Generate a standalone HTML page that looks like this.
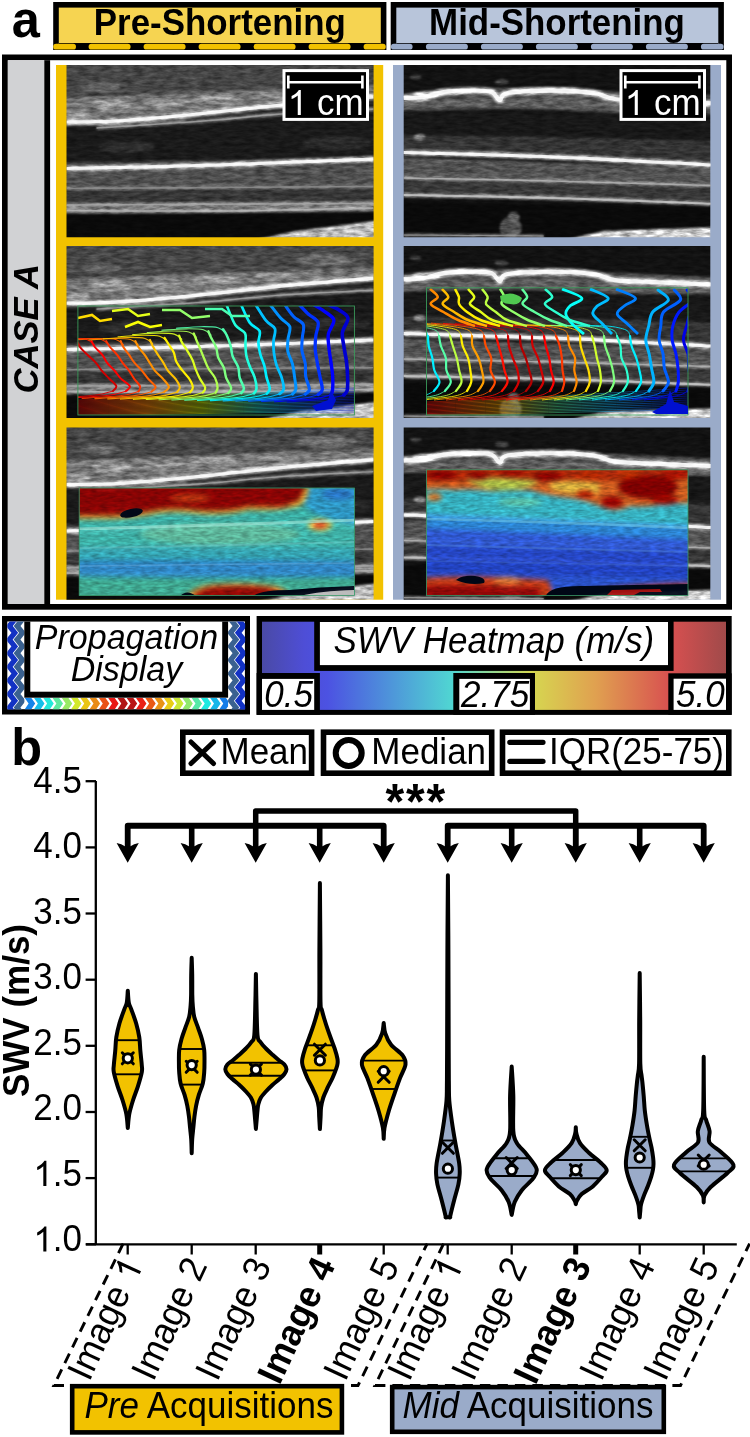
<!DOCTYPE html>
<html><head><meta charset="utf-8"><title>Figure</title>
<style>
html,body{margin:0;padding:0;background:#fff;}
body{width:750px;height:1437px;overflow:hidden;}
svg{display:block;font-family:"Liberation Sans",sans-serif;will-change:transform;}
</style></head><body>
<svg width="750" height="1437" viewBox="0 0 750 1437">
<rect x="53.2" y="2" width="333.2" height="48" fill="#000"/>
<rect x="58.800000000000004" y="7.6" width="322.0" height="37" fill="#f6d451"/>
<rect x="58.800000000000004" y="43" width="322.0" height="2" fill="#000"/>
<rect x="53.2" y="43.8" width="22.8" height="5.8" rx="2.9" fill="#f2c200"/><rect x="88.6" y="43.8" width="42.0" height="5.8" rx="2.9" fill="#f2c200"/><rect x="143.6" y="43.8" width="42.0" height="5.8" rx="2.9" fill="#f2c200"/><rect x="198.6" y="43.8" width="42.0" height="5.8" rx="2.9" fill="#f2c200"/><rect x="253.6" y="43.8" width="42.0" height="5.8" rx="2.9" fill="#f2c200"/><rect x="308.6" y="43.8" width="42.0" height="5.8" rx="2.9" fill="#f2c200"/><rect x="363.6" y="43.8" width="22.2" height="5.8" rx="2.9" fill="#f2c200"/>
<text x="219.8" y="35.2" font-size="34.9" font-weight="bold" text-anchor="middle" transform="matrix(1 0 0 1.04 0 -1.41)">Pre-Shortening</text>
<rect x="390.7" y="2" width="333.2" height="48" fill="#000"/>
<rect x="396.3" y="7.6" width="322.0" height="37" fill="#b8c5da"/>
<rect x="396.3" y="43" width="322.0" height="2" fill="#000"/>
<rect x="390.9" y="43.8" width="21.7" height="5.8" rx="2.9" fill="#9aabc9"/><rect x="425.9" y="43.8" width="42.0" height="5.8" rx="2.9" fill="#9aabc9"/><rect x="480.9" y="43.8" width="42.0" height="5.8" rx="2.9" fill="#9aabc9"/><rect x="535.9" y="43.8" width="42.0" height="5.8" rx="2.9" fill="#9aabc9"/><rect x="590.9" y="43.8" width="42.0" height="5.8" rx="2.9" fill="#9aabc9"/><rect x="645.9" y="43.8" width="42.0" height="5.8" rx="2.9" fill="#9aabc9"/><rect x="700.9" y="43.8" width="22.7" height="5.8" rx="2.9" fill="#9aabc9"/>
<text x="557.0" y="35.2" font-size="34.9" font-weight="bold" text-anchor="middle" transform="matrix(1 0 0 1.04 0 -1.41)">Mid-Shortening</text>
<text x="11.8" y="37.3" font-size="50.5" font-weight="bold" transform="matrix(1 0 0 1.04 0 -1.49)">a</text>
<rect x="4.85" y="57.35" width="724.3" height="549.5" fill="#fff" stroke="#000" stroke-width="5.7"/>
<rect x="8" y="60.2" width="36.3" height="543.8" fill="#d1d2d4"/>
<rect x="44.3" y="60.2" width="5.8" height="543.8" fill="#000"/>
<text transform="translate(25.6 328.8) rotate(-90) scale(1 1.04)" x="0" y="12" font-size="34.6" font-weight="bold" font-style="italic" text-anchor="middle">CASE A</text>
<rect x="56" y="65" width="327.2" height="534.7" fill="#f2c200"/>
<rect x="393" y="65" width="328" height="534.7" fill="#9aabc9"/>
<defs><filter id="spk" x="0" y="0" width="1" height="1" color-interpolation-filters="sRGB"><feGaussianBlur in="SourceGraphic" stdDeviation="1.3" result="b"/><feTurbulence type="fractalNoise" baseFrequency="0.09 0.3" numOctaves="3" seed="5" result="t"/><feColorMatrix in="t" type="matrix" values="1 0 0 0 0  1 0 0 0 0  1 0 0 0 0  0 0 0 0 1" result="nz"/><feComposite in="b" in2="nz" operator="arithmetic" k1="1.0" k2="0.5" k3="0" k4="0"/></filter><filter id="bl06"><feGaussianBlur stdDeviation="0.6"/></filter><filter id="bl3" x="-0.05" y="-0.1" width="1.1" height="1.2"><feGaussianBlur stdDeviation="3"/></filter><filter id="bl25" x="-0.05" y="-0.1" width="1.1" height="1.2"><feGaussianBlur stdDeviation="2.3"/></filter><filter id="hmn" x="-0.05" y="-0.1" width="1.1" height="1.2" color-interpolation-filters="sRGB"><feGaussianBlur in="SourceGraphic" stdDeviation="2.5" result="b"/><feTurbulence type="fractalNoise" baseFrequency="0.12 0.4" numOctaves="2" seed="9" result="t"/><feColorMatrix in="t" type="matrix" values="1 0 0 0 0  1 0 0 0 0  1 0 0 0 0  0 0 0 0 1" result="nz"/><feComposite in="b" in2="nz" operator="arithmetic" k1="0.6" k2="0.72" k3="0" k4="0"/></filter><filter id="bl5" x="-0.1" y="-0.1" width="1.2" height="1.2"><feGaussianBlur stdDeviation="5"/></filter></defs>
<clipPath id="cpre0"><rect x="66.5" y="65" width="307.1" height="172.3"/></clipPath>
<g clip-path="url(#cpre0)"><g filter="url(#spk)"><rect x="58.5" y="57" width="323.1" height="188.3" fill="#3e3e3e"/><polygon points="58.5,57.0 381.5,57.0 381.5,89.0 58.5,95.0" fill="#464646"/><polygon points="58.5,98.0 126.5,95.0 186.5,93.0 266.5,90.0 381.5,86.0 381.5,97.0 266.5,105.0 186.5,113.0 126.5,117.0 58.5,119.0" fill="#747474"/><polygon points="186.5,115.0 266.5,107.0 381.5,99.0 381.5,115.0 266.5,121.0 186.5,127.0" fill="#262626"/><polygon points="58.5,127.0 166.5,124.0 266.5,118.0 381.5,111.0 381.5,156.0 216.5,160.0 58.5,162.0" fill="#1a1a1a"/><polygon points="58.5,171.0 381.5,164.0 381.5,184.0 58.5,187.0" fill="#505050"/><polygon points="58.5,189.0 381.5,186.0 381.5,201.0 58.5,203.0" fill="#363636"/><polygon points="58.5,203.0 381.5,201.0 381.5,211.0 58.5,213.0" fill="#6a6a6a"/><polygon points="58.5,214.0 381.5,212.0 381.5,245.0 58.5,245.0" fill="#0a0a0a"/><polygon points="231.5,245.0 296.5,231.0 381.5,220.0 381.5,245.0 231.5,245.0" fill="#bdbdbd"/><ellipse cx="336.5" cy="143" rx="34" ry="7" fill="#2a2a2a"/><ellipse cx="126.5" cy="147" rx="28" ry="6" fill="#2c2c2c"/><ellipse cx="111.5" cy="105" rx="20" ry="5" fill="#9a9a9a"/><ellipse cx="166.5" cy="103" rx="24" ry="5" fill="#8c8c8c"/><ellipse cx="216.5" cy="99" rx="26" ry="4.5" fill="#949494"/><ellipse cx="276.5" cy="95" rx="22" ry="4" fill="#8a8a8a"/><ellipse cx="100.5" cy="87" rx="20" ry="5" fill="#606060"/><ellipse cx="326.5" cy="79" rx="30" ry="6" fill="#6a6a6a"/><ellipse cx="78.5" cy="115" rx="12" ry="3" fill="#a0a0a0"/><path d="M66.5 122.0 C74.83 121.83 99.83 121.83 116.50 121.00 C133.17 120.17 149.83 118.50 166.50 117.00 C183.17 115.50 197.33 114.00 216.50 112.00 C235.67 110.00 263.17 106.83 281.50 105.00 C299.83 103.17 311.17 102.33 326.50 101.00 C341.83 99.67 365.67 97.67 373.50 97.00" stroke="#ffffff" stroke-width="5.8" fill="none" opacity="0.7"/><path d="M96.5 128.0 C108.17 127.25 146.50 124.83 166.50 123.50 C186.50 122.17 197.33 121.58 216.50 120.00 C235.67 118.42 255.33 115.83 281.50 114.00 C307.67 112.17 358.17 109.83 373.50 109.00" stroke="#a0a0a0" stroke-width="3.3" fill="none" opacity="0.7"/><path d="M66.5 168.5 C91.50 167.92 165.33 166.58 216.50 165.00 C267.67 163.42 347.33 160.00 373.50 159.00" stroke="#ffffff" stroke-width="5.5" fill="none" opacity="0.7"/><path d="M66.5 188.5 C117.67 188.17 322.33 186.83 373.50 186.50" stroke="#8c8c8c" stroke-width="3.3" fill="none" opacity="0.7"/><path d="M66.5 205.0 C117.67 204.75 322.33 203.75 373.50 203.50" stroke="#a4a4a4" stroke-width="3.5" fill="none" opacity="0.7"/><path d="M66.5 210.5 C91.50 210.58 165.33 211.42 216.50 211.00 C267.67 210.58 347.33 208.50 373.50 208.00" stroke="#b4b4b4" stroke-width="3.5" fill="none" opacity="0.7"/></g><g filter="url(#bl06)"><path d="M66.5 122.0 C74.83 121.83 99.83 121.83 116.50 121.00 C133.17 120.17 149.83 118.50 166.50 117.00 C183.17 115.50 197.33 114.00 216.50 112.00 C235.67 110.00 263.17 106.83 281.50 105.00 C299.83 103.17 311.17 102.33 326.50 101.00 C341.83 99.67 365.67 97.67 373.50 97.00" stroke="#ffffff" stroke-width="3.2" fill="none" opacity="0.85"/><path d="M96.5 128.0 C108.17 127.25 146.50 124.83 166.50 123.50 C186.50 122.17 197.33 121.58 216.50 120.00 C235.67 118.42 255.33 115.83 281.50 114.00 C307.67 112.17 358.17 109.83 373.50 109.00" stroke="#a0a0a0" stroke-width="1.4" fill="none" opacity="0.85"/><path d="M66.5 168.5 C91.50 167.92 165.33 166.58 216.50 165.00 C267.67 163.42 347.33 160.00 373.50 159.00" stroke="#ffffff" stroke-width="3.0" fill="none" opacity="0.85"/><path d="M66.5 188.5 C117.67 188.17 322.33 186.83 373.50 186.50" stroke="#8c8c8c" stroke-width="1.4" fill="none" opacity="0.85"/><path d="M66.5 205.0 C117.67 204.75 322.33 203.75 373.50 203.50" stroke="#a4a4a4" stroke-width="1.5" fill="none" opacity="0.85"/><path d="M66.5 210.5 C91.50 210.58 165.33 211.42 216.50 211.00 C267.67 210.58 347.33 208.50 373.50 208.00" stroke="#b4b4b4" stroke-width="1.5" fill="none" opacity="0.85"/></g></g>
<clipPath id="cmid0"><rect x="403.7" y="65" width="306.6" height="172.3"/></clipPath>
<g clip-path="url(#cmid0)"><g filter="url(#spk)"><rect x="395.7" y="57" width="322.6" height="188.3" fill="#121212"/><polygon points="395.7,94.0 443.7,89.0 553.7,87.0 603.7,91.0 718.7,96.0 718.7,114.0 613.7,113.0 553.7,110.0 503.7,109.0 395.7,111.0" fill="#4e4e4e"/><polygon points="395.7,101.0 503.7,99.0 553.7,97.0 613.7,103.0 718.7,105.0 718.7,112.0 613.7,111.0 553.7,107.0 503.7,107.0 395.7,109.0" fill="#5e5e5e"/><polygon points="395.7,112.0 718.7,114.0 718.7,141.0 395.7,137.0" fill="#181818"/><polygon points="395.7,135.0 553.7,137.0 718.7,141.0 718.7,163.0 395.7,152.0" fill="#343434"/><polygon points="395.7,157.0 718.7,168.0 718.7,185.0 395.7,177.0" fill="#525252"/><polygon points="395.7,178.0 718.7,186.0 718.7,202.0 395.7,195.0" fill="#383838"/><polygon points="395.7,202.0 718.7,207.0 718.7,245.0 395.7,245.0" fill="#0a0a0a"/><polygon points="543.7,245.0 603.7,231.0 718.7,227.0 718.7,245.0 543.7,245.0" fill="#d2d2d2"/><ellipse cx="510.7" cy="228" rx="11" ry="11" fill="#505050"/><ellipse cx="513.7" cy="217" rx="6" ry="5" fill="#606060"/><ellipse cx="415.7" cy="77" rx="6" ry="1.8" fill="#4a4a4a"/><ellipse cx="501.7" cy="82" rx="7" ry="2.5" fill="#4a4a4a"/><ellipse cx="419.7" cy="137" rx="6" ry="3" fill="#8a8a8a"/><ellipse cx="425.7" cy="95" rx="14" ry="3.5" fill="#e0e0e0"/><ellipse cx="463.7" cy="91" rx="12" ry="3" fill="#e0e0e0"/><path d="M403.7 98.0 C407.03 97.83 417.03 98.00 423.70 97.00 C430.37 96.00 435.37 93.08 443.70 92.00 C452.03 90.92 465.70 90.50 473.70 90.50 C481.70 90.50 487.37 90.42 491.70 92.00 C496.03 93.58 497.03 99.83 499.70 100.00 C502.37 100.17 499.20 94.57 507.70 93.00 C516.20 91.43 536.37 90.60 550.70 90.60 C565.03 90.60 583.03 91.60 593.70 93.00 C604.37 94.40 604.70 97.67 614.70 99.00 C624.70 100.33 637.70 100.27 653.70 101.00 C669.70 101.73 701.20 103.00 710.70 103.40" stroke="#ffffff" stroke-width="7.0" fill="none" opacity="0.7"/><path d="M403.7 152.5 C428.70 153.25 502.53 154.92 553.70 157.00 C604.87 159.08 684.53 163.67 710.70 165.00" stroke="#ffffff" stroke-width="5.5" fill="none" opacity="0.7"/><path d="M403.7 178.0 C428.70 178.50 502.53 179.75 553.70 181.00 C604.87 182.25 684.53 184.75 710.70 185.50" stroke="#b0b0b0" stroke-width="3.5" fill="none" opacity="0.7"/><path d="M403.7 195.0 C428.70 195.50 502.53 196.55 553.70 198.00 C604.87 199.45 684.53 202.75 710.70 203.70" stroke="#c4c4c4" stroke-width="4.1" fill="none" opacity="0.7"/><path d="M403.7 235.0 C427.03 235.17 520.37 235.83 543.70 236.00" stroke="#9a9a9a" stroke-width="3.1" fill="none" opacity="0.7"/></g><g filter="url(#bl06)"><path d="M403.7 98.0 C407.03 97.83 417.03 98.00 423.70 97.00 C430.37 96.00 435.37 93.08 443.70 92.00 C452.03 90.92 465.70 90.50 473.70 90.50 C481.70 90.50 487.37 90.42 491.70 92.00 C496.03 93.58 497.03 99.83 499.70 100.00 C502.37 100.17 499.20 94.57 507.70 93.00 C516.20 91.43 536.37 90.60 550.70 90.60 C565.03 90.60 583.03 91.60 593.70 93.00 C604.37 94.40 604.70 97.67 614.70 99.00 C624.70 100.33 637.70 100.27 653.70 101.00 C669.70 101.73 701.20 103.00 710.70 103.40" stroke="#ffffff" stroke-width="4.1" fill="none" opacity="0.85"/><path d="M403.7 152.5 C428.70 153.25 502.53 154.92 553.70 157.00 C604.87 159.08 684.53 163.67 710.70 165.00" stroke="#ffffff" stroke-width="3.0" fill="none" opacity="0.85"/><path d="M403.7 178.0 C428.70 178.50 502.53 179.75 553.70 181.00 C604.87 182.25 684.53 184.75 710.70 185.50" stroke="#b0b0b0" stroke-width="1.5" fill="none" opacity="0.85"/><path d="M403.7 195.0 C428.70 195.50 502.53 196.55 553.70 198.00 C604.87 199.45 684.53 202.75 710.70 203.70" stroke="#c4c4c4" stroke-width="2.0" fill="none" opacity="0.85"/><path d="M403.7 235.0 C427.03 235.17 520.37 235.83 543.70 236.00" stroke="#9a9a9a" stroke-width="1.2" fill="none" opacity="0.85"/></g></g>
<clipPath id="cpre1"><rect x="66.5" y="246.1" width="307.1" height="171.9"/></clipPath>
<g clip-path="url(#cpre1)"><g filter="url(#spk)"><rect x="58.5" y="238.1" width="323.1" height="187.9" fill="#3e3e3e"/><polygon points="58.5,238.1 381.5,238.1 381.5,270.1 58.5,276.1" fill="#464646"/><polygon points="58.5,279.1 126.5,276.1 186.5,274.1 266.5,271.1 381.5,267.1 381.5,278.1 266.5,286.1 186.5,294.1 126.5,298.1 58.5,300.1" fill="#747474"/><polygon points="186.5,296.1 266.5,288.1 381.5,280.1 381.5,296.1 266.5,302.1 186.5,308.1" fill="#262626"/><polygon points="58.5,308.1 166.5,305.1 266.5,299.1 381.5,292.1 381.5,337.1 216.5,341.1 58.5,343.1" fill="#1a1a1a"/><polygon points="58.5,352.1 381.5,345.1 381.5,365.1 58.5,368.1" fill="#505050"/><polygon points="58.5,370.1 381.5,367.1 381.5,382.1 58.5,384.1" fill="#363636"/><polygon points="58.5,384.1 381.5,382.1 381.5,392.1 58.5,394.1" fill="#6a6a6a"/><polygon points="58.5,395.1 381.5,393.1 381.5,426.1 58.5,426.1" fill="#0a0a0a"/><polygon points="231.5,426.1 296.5,412.1 381.5,401.1 381.5,426.1 231.5,426.1" fill="#bdbdbd"/><ellipse cx="336.5" cy="324.1" rx="34" ry="7" fill="#2a2a2a"/><ellipse cx="126.5" cy="328.1" rx="28" ry="6" fill="#2c2c2c"/><ellipse cx="111.5" cy="286.1" rx="20" ry="5" fill="#9a9a9a"/><ellipse cx="166.5" cy="284.1" rx="24" ry="5" fill="#8c8c8c"/><ellipse cx="216.5" cy="280.1" rx="26" ry="4.5" fill="#949494"/><ellipse cx="276.5" cy="276.1" rx="22" ry="4" fill="#8a8a8a"/><ellipse cx="100.5" cy="268.1" rx="20" ry="5" fill="#606060"/><ellipse cx="326.5" cy="260.1" rx="30" ry="6" fill="#6a6a6a"/><ellipse cx="78.5" cy="296.1" rx="12" ry="3" fill="#a0a0a0"/><path d="M66.5 303.1 C74.83 302.93 99.83 302.93 116.50 302.10 C133.17 301.27 149.83 299.60 166.50 298.10 C183.17 296.60 197.33 295.10 216.50 293.10 C235.67 291.10 263.17 287.93 281.50 286.10 C299.83 284.27 311.17 283.43 326.50 282.10 C341.83 280.77 365.67 278.77 373.50 278.10" stroke="#ffffff" stroke-width="5.8" fill="none" opacity="0.7"/><path d="M96.5 309.1 C108.17 308.35 146.50 305.93 166.50 304.60 C186.50 303.27 197.33 302.68 216.50 301.10 C235.67 299.52 255.33 296.93 281.50 295.10 C307.67 293.27 358.17 290.93 373.50 290.10" stroke="#a0a0a0" stroke-width="3.3" fill="none" opacity="0.7"/><path d="M66.5 349.6 C91.50 349.02 165.33 347.68 216.50 346.10 C267.67 344.52 347.33 341.10 373.50 340.10" stroke="#ffffff" stroke-width="5.5" fill="none" opacity="0.7"/><path d="M66.5 369.6 C117.67 369.27 322.33 367.93 373.50 367.60" stroke="#8c8c8c" stroke-width="3.3" fill="none" opacity="0.7"/><path d="M66.5 386.1 C117.67 385.85 322.33 384.85 373.50 384.60" stroke="#a4a4a4" stroke-width="3.5" fill="none" opacity="0.7"/><path d="M66.5 391.6 C91.50 391.68 165.33 392.52 216.50 392.10 C267.67 391.68 347.33 389.60 373.50 389.10" stroke="#b4b4b4" stroke-width="3.5" fill="none" opacity="0.7"/></g><g filter="url(#bl06)"><path d="M66.5 303.1 C74.83 302.93 99.83 302.93 116.50 302.10 C133.17 301.27 149.83 299.60 166.50 298.10 C183.17 296.60 197.33 295.10 216.50 293.10 C235.67 291.10 263.17 287.93 281.50 286.10 C299.83 284.27 311.17 283.43 326.50 282.10 C341.83 280.77 365.67 278.77 373.50 278.10" stroke="#ffffff" stroke-width="3.2" fill="none" opacity="0.85"/><path d="M96.5 309.1 C108.17 308.35 146.50 305.93 166.50 304.60 C186.50 303.27 197.33 302.68 216.50 301.10 C235.67 299.52 255.33 296.93 281.50 295.10 C307.67 293.27 358.17 290.93 373.50 290.10" stroke="#a0a0a0" stroke-width="1.4" fill="none" opacity="0.85"/><path d="M66.5 349.6 C91.50 349.02 165.33 347.68 216.50 346.10 C267.67 344.52 347.33 341.10 373.50 340.10" stroke="#ffffff" stroke-width="3.0" fill="none" opacity="0.85"/><path d="M66.5 369.6 C117.67 369.27 322.33 367.93 373.50 367.60" stroke="#8c8c8c" stroke-width="1.4" fill="none" opacity="0.85"/><path d="M66.5 386.1 C117.67 385.85 322.33 384.85 373.50 384.60" stroke="#a4a4a4" stroke-width="1.5" fill="none" opacity="0.85"/><path d="M66.5 391.6 C91.50 391.68 165.33 392.52 216.50 392.10 C267.67 391.68 347.33 389.60 373.50 389.10" stroke="#b4b4b4" stroke-width="1.5" fill="none" opacity="0.85"/></g></g>
<clipPath id="cmid1"><rect x="403.7" y="246.1" width="306.6" height="171.9"/></clipPath>
<g clip-path="url(#cmid1)"><g filter="url(#spk)"><rect x="395.7" y="238.1" width="322.6" height="187.9" fill="#121212"/><polygon points="395.7,275.1 443.7,270.1 553.7,268.1 603.7,272.1 718.7,277.1 718.7,295.1 613.7,294.1 553.7,291.1 503.7,290.1 395.7,292.1" fill="#4e4e4e"/><polygon points="395.7,282.1 503.7,280.1 553.7,278.1 613.7,284.1 718.7,286.1 718.7,293.1 613.7,292.1 553.7,288.1 503.7,288.1 395.7,290.1" fill="#5e5e5e"/><polygon points="395.7,293.1 718.7,295.1 718.7,322.1 395.7,318.1" fill="#181818"/><polygon points="395.7,316.1 553.7,318.1 718.7,322.1 718.7,344.1 395.7,333.1" fill="#343434"/><polygon points="395.7,338.1 718.7,349.1 718.7,366.1 395.7,358.1" fill="#525252"/><polygon points="395.7,359.1 718.7,367.1 718.7,383.1 395.7,376.1" fill="#383838"/><polygon points="395.7,383.1 718.7,388.1 718.7,426.1 395.7,426.1" fill="#0a0a0a"/><polygon points="543.7,426.1 603.7,412.1 718.7,408.1 718.7,426.1 543.7,426.1" fill="#d2d2d2"/><ellipse cx="510.7" cy="409.1" rx="11" ry="11" fill="#505050"/><ellipse cx="513.7" cy="398.1" rx="6" ry="5" fill="#606060"/><ellipse cx="415.7" cy="258.1" rx="6" ry="1.8" fill="#4a4a4a"/><ellipse cx="501.7" cy="263.1" rx="7" ry="2.5" fill="#4a4a4a"/><ellipse cx="419.7" cy="318.1" rx="6" ry="3" fill="#8a8a8a"/><ellipse cx="425.7" cy="276.1" rx="14" ry="3.5" fill="#e0e0e0"/><ellipse cx="463.7" cy="272.1" rx="12" ry="3" fill="#e0e0e0"/><path d="M403.7 279.1 C407.03 278.93 417.03 279.10 423.70 278.10 C430.37 277.10 435.37 274.18 443.70 273.10 C452.03 272.02 465.70 271.60 473.70 271.60 C481.70 271.60 487.37 271.52 491.70 273.10 C496.03 274.68 497.03 280.93 499.70 281.10 C502.37 281.27 499.20 275.67 507.70 274.10 C516.20 272.53 536.37 271.70 550.70 271.70 C565.03 271.70 583.03 272.70 593.70 274.10 C604.37 275.50 604.70 278.77 614.70 280.10 C624.70 281.43 637.70 281.37 653.70 282.10 C669.70 282.83 701.20 284.10 710.70 284.50" stroke="#ffffff" stroke-width="7.0" fill="none" opacity="0.7"/><path d="M403.7 333.6 C428.70 334.35 502.53 336.02 553.70 338.10 C604.87 340.18 684.53 344.77 710.70 346.10" stroke="#ffffff" stroke-width="5.5" fill="none" opacity="0.7"/><path d="M403.7 359.1 C428.70 359.60 502.53 360.85 553.70 362.10 C604.87 363.35 684.53 365.85 710.70 366.60" stroke="#b0b0b0" stroke-width="3.5" fill="none" opacity="0.7"/><path d="M403.7 376.1 C428.70 376.60 502.53 377.65 553.70 379.10 C604.87 380.55 684.53 383.85 710.70 384.80" stroke="#c4c4c4" stroke-width="4.1" fill="none" opacity="0.7"/><path d="M403.7 416.1 C427.03 416.27 520.37 416.93 543.70 417.10" stroke="#9a9a9a" stroke-width="3.1" fill="none" opacity="0.7"/></g><g filter="url(#bl06)"><path d="M403.7 279.1 C407.03 278.93 417.03 279.10 423.70 278.10 C430.37 277.10 435.37 274.18 443.70 273.10 C452.03 272.02 465.70 271.60 473.70 271.60 C481.70 271.60 487.37 271.52 491.70 273.10 C496.03 274.68 497.03 280.93 499.70 281.10 C502.37 281.27 499.20 275.67 507.70 274.10 C516.20 272.53 536.37 271.70 550.70 271.70 C565.03 271.70 583.03 272.70 593.70 274.10 C604.37 275.50 604.70 278.77 614.70 280.10 C624.70 281.43 637.70 281.37 653.70 282.10 C669.70 282.83 701.20 284.10 710.70 284.50" stroke="#ffffff" stroke-width="4.1" fill="none" opacity="0.85"/><path d="M403.7 333.6 C428.70 334.35 502.53 336.02 553.70 338.10 C604.87 340.18 684.53 344.77 710.70 346.10" stroke="#ffffff" stroke-width="3.0" fill="none" opacity="0.85"/><path d="M403.7 359.1 C428.70 359.60 502.53 360.85 553.70 362.10 C604.87 363.35 684.53 365.85 710.70 366.60" stroke="#b0b0b0" stroke-width="1.5" fill="none" opacity="0.85"/><path d="M403.7 376.1 C428.70 376.60 502.53 377.65 553.70 379.10 C604.87 380.55 684.53 383.85 710.70 384.80" stroke="#c4c4c4" stroke-width="2.0" fill="none" opacity="0.85"/><path d="M403.7 416.1 C427.03 416.27 520.37 416.93 543.70 417.10" stroke="#9a9a9a" stroke-width="1.2" fill="none" opacity="0.85"/></g></g>
<clipPath id="cpre2"><rect x="66.5" y="427.6" width="307.1" height="172.1"/></clipPath>
<g clip-path="url(#cpre2)"><g filter="url(#spk)"><rect x="58.5" y="419.6" width="323.1" height="188.1" fill="#3e3e3e"/><polygon points="58.5,419.6 381.5,419.6 381.5,451.6 58.5,457.6" fill="#464646"/><polygon points="58.5,460.6 126.5,457.6 186.5,455.6 266.5,452.6 381.5,448.6 381.5,459.6 266.5,467.6 186.5,475.6 126.5,479.6 58.5,481.6" fill="#747474"/><polygon points="186.5,477.6 266.5,469.6 381.5,461.6 381.5,477.6 266.5,483.6 186.5,489.6" fill="#262626"/><polygon points="58.5,489.6 166.5,486.6 266.5,480.6 381.5,473.6 381.5,518.6 216.5,522.6 58.5,524.6" fill="#1a1a1a"/><polygon points="58.5,533.6 381.5,526.6 381.5,546.6 58.5,549.6" fill="#505050"/><polygon points="58.5,551.6 381.5,548.6 381.5,563.6 58.5,565.6" fill="#363636"/><polygon points="58.5,565.6 381.5,563.6 381.5,573.6 58.5,575.6" fill="#6a6a6a"/><polygon points="58.5,576.6 381.5,574.6 381.5,607.6 58.5,607.6" fill="#0a0a0a"/><polygon points="231.5,607.6 296.5,593.6 381.5,582.6 381.5,607.6 231.5,607.6" fill="#bdbdbd"/><ellipse cx="336.5" cy="505.6" rx="34" ry="7" fill="#2a2a2a"/><ellipse cx="126.5" cy="509.6" rx="28" ry="6" fill="#2c2c2c"/><ellipse cx="111.5" cy="467.6" rx="20" ry="5" fill="#9a9a9a"/><ellipse cx="166.5" cy="465.6" rx="24" ry="5" fill="#8c8c8c"/><ellipse cx="216.5" cy="461.6" rx="26" ry="4.5" fill="#949494"/><ellipse cx="276.5" cy="457.6" rx="22" ry="4" fill="#8a8a8a"/><ellipse cx="100.5" cy="449.6" rx="20" ry="5" fill="#606060"/><ellipse cx="326.5" cy="441.6" rx="30" ry="6" fill="#6a6a6a"/><ellipse cx="78.5" cy="477.6" rx="12" ry="3" fill="#a0a0a0"/><path d="M66.5 484.6 C74.83 484.43 99.83 484.43 116.50 483.60 C133.17 482.77 149.83 481.10 166.50 479.60 C183.17 478.10 197.33 476.60 216.50 474.60 C235.67 472.60 263.17 469.43 281.50 467.60 C299.83 465.77 311.17 464.93 326.50 463.60 C341.83 462.27 365.67 460.27 373.50 459.60" stroke="#ffffff" stroke-width="5.8" fill="none" opacity="0.7"/><path d="M96.5 490.6 C108.17 489.85 146.50 487.43 166.50 486.10 C186.50 484.77 197.33 484.18 216.50 482.60 C235.67 481.02 255.33 478.43 281.50 476.60 C307.67 474.77 358.17 472.43 373.50 471.60" stroke="#a0a0a0" stroke-width="3.3" fill="none" opacity="0.7"/><path d="M66.5 531.1 C91.50 530.52 165.33 529.18 216.50 527.60 C267.67 526.02 347.33 522.60 373.50 521.60" stroke="#ffffff" stroke-width="5.5" fill="none" opacity="0.7"/><path d="M66.5 551.1 C117.67 550.77 322.33 549.43 373.50 549.10" stroke="#8c8c8c" stroke-width="3.3" fill="none" opacity="0.7"/><path d="M66.5 567.6 C117.67 567.35 322.33 566.35 373.50 566.10" stroke="#a4a4a4" stroke-width="3.5" fill="none" opacity="0.7"/><path d="M66.5 573.1 C91.50 573.18 165.33 574.02 216.50 573.60 C267.67 573.18 347.33 571.10 373.50 570.60" stroke="#b4b4b4" stroke-width="3.5" fill="none" opacity="0.7"/></g><g filter="url(#bl06)"><path d="M66.5 484.6 C74.83 484.43 99.83 484.43 116.50 483.60 C133.17 482.77 149.83 481.10 166.50 479.60 C183.17 478.10 197.33 476.60 216.50 474.60 C235.67 472.60 263.17 469.43 281.50 467.60 C299.83 465.77 311.17 464.93 326.50 463.60 C341.83 462.27 365.67 460.27 373.50 459.60" stroke="#ffffff" stroke-width="3.2" fill="none" opacity="0.85"/><path d="M96.5 490.6 C108.17 489.85 146.50 487.43 166.50 486.10 C186.50 484.77 197.33 484.18 216.50 482.60 C235.67 481.02 255.33 478.43 281.50 476.60 C307.67 474.77 358.17 472.43 373.50 471.60" stroke="#a0a0a0" stroke-width="1.4" fill="none" opacity="0.85"/><path d="M66.5 531.1 C91.50 530.52 165.33 529.18 216.50 527.60 C267.67 526.02 347.33 522.60 373.50 521.60" stroke="#ffffff" stroke-width="3.0" fill="none" opacity="0.85"/><path d="M66.5 551.1 C117.67 550.77 322.33 549.43 373.50 549.10" stroke="#8c8c8c" stroke-width="1.4" fill="none" opacity="0.85"/><path d="M66.5 567.6 C117.67 567.35 322.33 566.35 373.50 566.10" stroke="#a4a4a4" stroke-width="1.5" fill="none" opacity="0.85"/><path d="M66.5 573.1 C91.50 573.18 165.33 574.02 216.50 573.60 C267.67 573.18 347.33 571.10 373.50 570.60" stroke="#b4b4b4" stroke-width="1.5" fill="none" opacity="0.85"/></g></g>
<clipPath id="cmid2"><rect x="403.7" y="427.6" width="306.6" height="172.1"/></clipPath>
<g clip-path="url(#cmid2)"><g filter="url(#spk)"><rect x="395.7" y="419.6" width="322.6" height="188.1" fill="#121212"/><polygon points="395.7,456.6 443.7,451.6 553.7,449.6 603.7,453.6 718.7,458.6 718.7,476.6 613.7,475.6 553.7,472.6 503.7,471.6 395.7,473.6" fill="#4e4e4e"/><polygon points="395.7,463.6 503.7,461.6 553.7,459.6 613.7,465.6 718.7,467.6 718.7,474.6 613.7,473.6 553.7,469.6 503.7,469.6 395.7,471.6" fill="#5e5e5e"/><polygon points="395.7,474.6 718.7,476.6 718.7,503.6 395.7,499.6" fill="#181818"/><polygon points="395.7,497.6 553.7,499.6 718.7,503.6 718.7,525.6 395.7,514.6" fill="#343434"/><polygon points="395.7,519.6 718.7,530.6 718.7,547.6 395.7,539.6" fill="#525252"/><polygon points="395.7,540.6 718.7,548.6 718.7,564.6 395.7,557.6" fill="#383838"/><polygon points="395.7,564.6 718.7,569.6 718.7,607.6 395.7,607.6" fill="#0a0a0a"/><polygon points="543.7,607.6 603.7,593.6 718.7,589.6 718.7,607.6 543.7,607.6" fill="#d2d2d2"/><ellipse cx="510.7" cy="590.6" rx="11" ry="11" fill="#505050"/><ellipse cx="513.7" cy="579.6" rx="6" ry="5" fill="#606060"/><ellipse cx="415.7" cy="439.6" rx="6" ry="1.8" fill="#4a4a4a"/><ellipse cx="501.7" cy="444.6" rx="7" ry="2.5" fill="#4a4a4a"/><ellipse cx="419.7" cy="499.6" rx="6" ry="3" fill="#8a8a8a"/><ellipse cx="425.7" cy="457.6" rx="14" ry="3.5" fill="#e0e0e0"/><ellipse cx="463.7" cy="453.6" rx="12" ry="3" fill="#e0e0e0"/><path d="M403.7 460.6 C407.03 460.43 417.03 460.60 423.70 459.60 C430.37 458.60 435.37 455.68 443.70 454.60 C452.03 453.52 465.70 453.10 473.70 453.10 C481.70 453.10 487.37 453.02 491.70 454.60 C496.03 456.18 497.03 462.43 499.70 462.60 C502.37 462.77 499.20 457.17 507.70 455.60 C516.20 454.03 536.37 453.20 550.70 453.20 C565.03 453.20 583.03 454.20 593.70 455.60 C604.37 457.00 604.70 460.27 614.70 461.60 C624.70 462.93 637.70 462.87 653.70 463.60 C669.70 464.33 701.20 465.60 710.70 466.00" stroke="#ffffff" stroke-width="7.0" fill="none" opacity="0.7"/><path d="M403.7 515.1 C428.70 515.85 502.53 517.52 553.70 519.60 C604.87 521.68 684.53 526.27 710.70 527.60" stroke="#ffffff" stroke-width="5.5" fill="none" opacity="0.7"/><path d="M403.7 540.6 C428.70 541.10 502.53 542.35 553.70 543.60 C604.87 544.85 684.53 547.35 710.70 548.10" stroke="#b0b0b0" stroke-width="3.5" fill="none" opacity="0.7"/><path d="M403.7 557.6 C428.70 558.10 502.53 559.15 553.70 560.60 C604.87 562.05 684.53 565.35 710.70 566.30" stroke="#c4c4c4" stroke-width="4.1" fill="none" opacity="0.7"/><path d="M403.7 597.6 C427.03 597.77 520.37 598.43 543.70 598.60" stroke="#9a9a9a" stroke-width="3.1" fill="none" opacity="0.7"/></g><g filter="url(#bl06)"><path d="M403.7 460.6 C407.03 460.43 417.03 460.60 423.70 459.60 C430.37 458.60 435.37 455.68 443.70 454.60 C452.03 453.52 465.70 453.10 473.70 453.10 C481.70 453.10 487.37 453.02 491.70 454.60 C496.03 456.18 497.03 462.43 499.70 462.60 C502.37 462.77 499.20 457.17 507.70 455.60 C516.20 454.03 536.37 453.20 550.70 453.20 C565.03 453.20 583.03 454.20 593.70 455.60 C604.37 457.00 604.70 460.27 614.70 461.60 C624.70 462.93 637.70 462.87 653.70 463.60 C669.70 464.33 701.20 465.60 710.70 466.00" stroke="#ffffff" stroke-width="4.1" fill="none" opacity="0.85"/><path d="M403.7 515.1 C428.70 515.85 502.53 517.52 553.70 519.60 C604.87 521.68 684.53 526.27 710.70 527.60" stroke="#ffffff" stroke-width="3.0" fill="none" opacity="0.85"/><path d="M403.7 540.6 C428.70 541.10 502.53 542.35 553.70 543.60 C604.87 544.85 684.53 547.35 710.70 548.10" stroke="#b0b0b0" stroke-width="1.5" fill="none" opacity="0.85"/><path d="M403.7 557.6 C428.70 558.10 502.53 559.15 553.70 560.60 C604.87 562.05 684.53 565.35 710.70 566.30" stroke="#c4c4c4" stroke-width="2.0" fill="none" opacity="0.85"/><path d="M403.7 597.6 C427.03 597.77 520.37 598.43 543.70 598.60" stroke="#9a9a9a" stroke-width="1.2" fill="none" opacity="0.85"/></g></g>
<defs><linearGradient id="fanpre" x1="77.9" x2="354.4" y1="0" y2="0" gradientUnits="userSpaceOnUse"><stop offset="0" stop-color="#c00000"/><stop offset="0.25" stop-color="#ff8000"/><stop offset="0.45" stop-color="#c0e000"/><stop offset="0.65" stop-color="#20d0c0"/><stop offset="0.85" stop-color="#1060ff"/><stop offset="1" stop-color="#0010c0"/></linearGradient><linearGradient id="fanmid" x1="426.5" x2="688" y1="0" y2="0" gradientUnits="userSpaceOnUse"><stop offset="0" stop-color="#e00000"/><stop offset="0.3" stop-color="#e0a000"/><stop offset="0.5" stop-color="#40c080"/><stop offset="0.7" stop-color="#10a0e0"/><stop offset="1" stop-color="#0010c0"/></linearGradient></defs>
<clipPath id="cprop1"><rect x="77.9" y="306" width="276.5" height="109"/></clipPath><g clip-path="url(#cprop1)"><path d="M77.9 400.0 Q 200 396.0 354.4 388.0" stroke="url(#fanpre)" stroke-width="0.8" fill="none" opacity="0.6"/><path d="M77.9 401.1 Q 200 397.1 354.4 389.6" stroke="url(#fanpre)" stroke-width="0.8" fill="none" opacity="0.6"/><path d="M77.9 402.2 Q 200 398.2 354.4 391.2" stroke="url(#fanpre)" stroke-width="0.8" fill="none" opacity="0.6"/><path d="M77.9 403.3 Q 200 399.3 354.4 392.8" stroke="url(#fanpre)" stroke-width="0.8" fill="none" opacity="0.6"/><path d="M77.9 404.4 Q 200 400.4 354.4 394.4" stroke="url(#fanpre)" stroke-width="0.8" fill="none" opacity="0.6"/><path d="M77.9 405.5 Q 200 401.5 354.4 396.0" stroke="url(#fanpre)" stroke-width="0.8" fill="none" opacity="0.6"/><path d="M77.9 406.6 Q 200 402.6 354.4 397.6" stroke="url(#fanpre)" stroke-width="0.8" fill="none" opacity="0.6"/><path d="M77.9 407.7 Q 200 403.7 354.4 399.2" stroke="url(#fanpre)" stroke-width="0.8" fill="none" opacity="0.6"/><path d="M77.9 408.8 Q 200 404.8 354.4 400.8" stroke="url(#fanpre)" stroke-width="0.8" fill="none" opacity="0.6"/><path d="M77.9 409.9 Q 200 405.9 354.4 402.4" stroke="url(#fanpre)" stroke-width="0.8" fill="none" opacity="0.6"/><path d="M77.9 411.0 Q 200 407.0 354.4 404.0" stroke="url(#fanpre)" stroke-width="0.8" fill="none" opacity="0.6"/><path d="M77.9 412.1 Q 200 408.1 354.4 405.6" stroke="url(#fanpre)" stroke-width="0.8" fill="none" opacity="0.6"/><path d="M77.9 413.2 Q 200 409.2 354.4 407.2" stroke="url(#fanpre)" stroke-width="0.8" fill="none" opacity="0.6"/><path d="M77.9 414.3 Q 200 410.3 354.4 408.8" stroke="url(#fanpre)" stroke-width="0.8" fill="none" opacity="0.6"/><path d="M77.9 415.4 Q 200 411.4 354.4 410.4" stroke="url(#fanpre)" stroke-width="0.8" fill="none" opacity="0.6"/><path d="M77.9 416.5 Q 200 412.5 354.4 412.0" stroke="url(#fanpre)" stroke-width="0.8" fill="none" opacity="0.6"/><path d="M30.0 340.0 C34.17 339.75 48.00 338.58 55.00 338.50 C62.00 338.42 67.83 338.42 72.00 339.50 C76.17 340.58 78.67 344.08 80.00 345.00" stroke="#d10000" stroke-width="1.1" fill="none" opacity="0.9"/><path d="M77.0 341.0 C77.49 342.00 78.19 344.70 79.92 347.00 C81.66 349.30 84.75 352.20 87.39 354.80 C90.03 357.40 93.41 360.00 95.76 362.60 C98.11 365.20 99.31 367.80 101.49 370.40 C103.67 373.00 106.36 375.60 108.83 378.20 C111.29 380.80 115.58 383.87 116.28 386.00 C116.98 388.13 113.55 390.17 113.00 391.00" stroke="#d10000" stroke-width="2.0" fill="none" stroke-linejoin="round" stroke-linecap="round"/><path d="M113.0 391.0 C110.17 391.67 105.50 393.83 96.00 395.00 C86.50 396.17 62.67 397.50 56.00 398.00" stroke="#d10000" stroke-width="1.1" fill="none" opacity="0.9"/><path d="M44.6 340.0 C48.77 339.75 62.60 338.58 69.60 338.50 C76.60 338.42 82.43 338.42 86.60 339.50 C90.77 340.58 93.27 344.08 94.60 345.00" stroke="#ff0100" stroke-width="1.1" fill="none" opacity="0.9"/><path d="M91.6 341.0 C92.13 342.00 93.01 344.69 94.81 347.00 C96.60 349.31 100.35 352.23 102.38 354.84 C104.41 357.46 104.97 360.07 106.99 362.69 C109.01 365.30 112.22 367.92 114.50 370.53 C116.78 373.15 118.12 375.76 120.67 378.38 C123.22 380.99 128.95 384.08 129.81 386.22 C130.67 388.36 126.49 390.39 125.82 391.22" stroke="#ff0100" stroke-width="2.0" fill="none" stroke-linejoin="round" stroke-linecap="round"/><path d="M125.8 391.2 C122.99 391.89 118.32 394.06 108.82 395.22 C99.32 396.39 75.49 397.72 68.82 398.22" stroke="#ff0100" stroke-width="1.1" fill="none" opacity="0.9"/><path d="M59.2 340.0 C63.37 339.75 77.20 338.58 84.20 338.50 C91.20 338.42 97.03 338.42 101.20 339.50 C105.37 340.58 107.87 344.08 109.20 345.00" stroke="#ff3100" stroke-width="1.1" fill="none" opacity="0.9"/><path d="M106.2 341.0 C106.83 342.00 108.14 344.69 109.97 347.00 C111.80 349.31 115.06 352.26 117.18 354.89 C119.29 357.52 120.69 360.15 122.67 362.78 C124.65 365.41 127.14 368.04 129.04 370.67 C130.93 373.30 132.22 375.93 134.06 378.56 C135.90 381.19 139.33 384.30 140.09 386.44 C140.86 388.59 138.89 390.61 138.64 391.44" stroke="#ff3100" stroke-width="2.0" fill="none" stroke-linejoin="round" stroke-linecap="round"/><path d="M138.6 391.4 C135.81 392.11 131.14 394.28 121.64 395.44 C112.14 396.61 88.31 397.94 81.64 398.44" stroke="#ff3100" stroke-width="1.1" fill="none" opacity="0.9"/><path d="M73.8 340.0 C77.97 339.75 91.80 338.58 98.80 338.50 C105.80 338.42 111.63 338.42 115.80 339.50 C119.97 340.58 122.47 344.08 123.80 345.00" stroke="#ff6000" stroke-width="1.1" fill="none" opacity="0.9"/><path d="M120.8 341.0 C121.22 342.00 121.92 344.68 123.30 347.00 C124.69 349.32 127.23 352.29 129.11 354.93 C130.98 357.58 132.40 360.22 134.56 362.87 C136.73 365.51 139.82 368.16 142.08 370.80 C144.35 373.44 145.90 376.09 148.14 378.73 C150.39 381.38 155.01 384.51 155.56 386.67 C156.12 388.82 152.15 390.83 151.47 391.67" stroke="#ff6000" stroke-width="2.0" fill="none" stroke-linejoin="round" stroke-linecap="round"/><path d="M151.5 391.7 C148.63 392.33 143.97 394.50 134.47 395.67 C124.97 396.83 101.13 398.17 94.47 398.67" stroke="#ff6000" stroke-width="1.1" fill="none" opacity="0.9"/><path d="M88.4 340.0 C92.57 339.75 106.40 338.58 113.40 338.50 C120.40 338.42 126.23 338.42 130.40 339.50 C134.57 340.58 137.07 344.08 138.40 345.00" stroke="#ff9000" stroke-width="1.1" fill="none" opacity="0.9"/><path d="M135.4 341.0 C135.90 342.00 136.85 344.67 138.40 347.00 C139.95 349.33 142.79 352.32 144.70 354.98 C146.60 357.64 148.10 360.30 149.82 362.96 C151.54 365.61 152.81 368.27 155.02 370.93 C157.24 373.59 160.80 376.25 163.10 378.91 C165.41 381.57 168.68 384.73 168.88 386.89 C169.07 389.05 165.05 391.06 164.29 391.89" stroke="#ff9000" stroke-width="2.1" fill="none" stroke-linejoin="round" stroke-linecap="round"/><path d="M164.3 391.9 C161.46 392.56 156.79 394.72 147.29 395.89 C137.79 397.06 113.96 398.39 107.29 398.89" stroke="#ff9000" stroke-width="1.1" fill="none" opacity="0.9"/><path d="M103.0 338.9 C107.17 338.68 121.00 337.51 128.00 337.43 C135.00 337.34 140.83 337.34 145.00 338.43 C149.17 339.51 151.67 343.01 153.00 343.93" stroke="#ffc000" stroke-width="1.1" fill="none" opacity="0.9"/><path d="M150.0 339.9 C150.45 340.93 151.44 343.55 152.70 345.93 C153.96 348.30 155.81 351.42 157.56 354.16 C159.30 356.91 161.45 359.65 163.17 362.40 C164.89 365.15 165.83 367.89 167.89 370.64 C169.95 373.38 173.56 376.13 175.54 378.87 C177.52 381.62 179.53 384.90 179.79 387.11 C180.05 389.32 177.56 391.28 177.11 392.11" stroke="#ffc000" stroke-width="2.1" fill="none" stroke-linejoin="round" stroke-linecap="round"/><path d="M177.1 392.1 C174.28 392.78 169.61 394.94 160.11 396.11 C150.61 397.28 126.78 398.61 120.11 399.11" stroke="#ffc000" stroke-width="1.1" fill="none" opacity="0.9"/><path d="M117.6 336.8 C121.77 336.53 135.60 335.36 142.60 335.28 C149.60 335.19 155.43 335.19 159.60 336.28 C163.77 337.36 166.27 340.86 167.60 341.78" stroke="#ffef00" stroke-width="1.1" fill="none" opacity="0.9"/><path d="M164.6 337.8 C165.22 338.78 166.80 341.33 168.33 343.78 C169.86 346.23 172.48 349.59 173.78 352.49 C175.08 355.39 174.79 358.30 176.14 361.20 C177.48 364.10 179.70 367.01 181.87 369.91 C184.05 372.81 187.35 375.72 189.18 378.62 C191.01 381.53 192.71 385.05 192.84 387.33 C192.96 389.62 190.42 391.50 189.93 392.33" stroke="#ffef00" stroke-width="2.2" fill="none" stroke-linejoin="round" stroke-linecap="round"/><path d="M189.9 392.3 C187.10 393.00 182.43 395.17 172.93 396.33 C163.43 397.50 139.60 398.83 132.93 399.33" stroke="#ffef00" stroke-width="1.1" fill="none" opacity="0.9"/><path d="M132.2 334.6 C136.37 334.38 150.20 333.21 157.20 333.13 C164.20 333.05 170.03 333.05 174.20 334.13 C178.37 335.21 180.87 338.71 182.20 339.63" stroke="#deff20" stroke-width="1.1" fill="none" opacity="0.9"/><path d="M179.2 335.6 C179.59 336.63 180.16 339.10 181.52 341.63 C182.87 344.16 185.49 347.75 187.33 350.81 C189.16 353.88 191.13 356.94 192.51 360.00 C193.89 363.06 194.39 366.12 195.60 369.19 C196.80 372.25 198.12 375.31 199.72 378.37 C201.33 381.43 204.71 385.19 205.22 387.56 C205.73 389.92 203.17 391.72 202.76 392.56" stroke="#deff20" stroke-width="2.2" fill="none" stroke-linejoin="round" stroke-linecap="round"/><path d="M202.8 392.6 C199.92 393.22 195.26 395.39 185.76 396.56 C176.26 397.72 152.42 399.06 145.76 399.56" stroke="#deff20" stroke-width="1.1" fill="none" opacity="0.9"/><path d="M146.8 332.5 C150.97 332.23 164.80 331.06 171.80 330.98 C178.80 330.90 184.63 330.90 188.80 331.98 C192.97 333.06 195.47 336.56 196.80 337.48" stroke="#afff4f" stroke-width="1.1" fill="none" opacity="0.9"/><path d="M193.8 333.5 C194.20 334.48 195.10 336.87 196.19 339.48 C197.28 342.09 199.00 345.92 200.34 349.14 C201.68 352.36 202.88 355.58 204.23 358.80 C205.59 362.02 206.64 365.24 208.46 368.46 C210.28 371.68 213.66 374.90 215.17 378.12 C216.69 381.34 217.48 385.33 217.55 387.78 C217.61 390.22 215.91 391.94 215.58 392.78" stroke="#afff4f" stroke-width="2.3" fill="none" stroke-linejoin="round" stroke-linecap="round"/><path d="M215.6 392.8 C212.74 393.44 208.08 395.61 198.58 396.78 C189.08 397.94 165.24 399.28 158.58 399.78" stroke="#afff4f" stroke-width="1.1" fill="none" opacity="0.9"/><path d="M161.4 330.3 C165.57 330.08 179.40 328.92 186.40 328.83 C193.40 328.75 199.23 328.75 203.40 329.83 C207.57 330.92 210.07 334.42 211.40 335.33" stroke="#7fff7f" stroke-width="1.1" fill="none" opacity="0.9"/><path d="M208.4 331.3 C208.82 332.33 209.61 334.64 210.91 337.33 C212.20 340.02 214.92 344.09 216.14 347.47 C217.36 350.84 216.93 354.22 218.22 357.60 C219.51 360.98 222.53 364.36 223.86 367.73 C225.19 371.11 224.96 374.49 226.17 377.87 C227.39 381.24 230.78 385.48 231.15 388.00 C231.52 390.52 228.86 392.17 228.40 393.00" stroke="#7fff7f" stroke-width="2.4" fill="none" stroke-linejoin="round" stroke-linecap="round"/><path d="M228.4 393.0 C225.57 393.67 220.90 395.83 211.40 397.00 C201.90 398.17 178.07 399.50 171.40 400.00" stroke="#7fff7f" stroke-width="1.1" fill="none" opacity="0.9"/><path d="M176.0 328.2 C180.17 327.94 194.00 326.77 201.00 326.69 C208.00 326.60 213.83 326.60 218.00 327.69 C222.17 328.77 224.67 332.27 226.00 333.19" stroke="#4fffaf" stroke-width="1.1" fill="none" opacity="0.9"/><path d="M223.0 329.2 C223.63 330.19 225.48 332.42 226.75 335.19 C228.02 337.95 229.63 342.26 230.62 345.79 C231.60 349.33 231.40 352.86 232.66 356.40 C233.92 359.94 237.00 363.47 238.16 367.01 C239.33 370.54 238.70 374.08 239.65 377.61 C240.61 381.15 243.62 385.62 243.88 388.22 C244.15 390.82 241.67 392.39 241.22 393.22" stroke="#4fffaf" stroke-width="2.5" fill="none" stroke-linejoin="round" stroke-linecap="round"/><path d="M241.2 393.2 C238.39 393.89 233.72 396.06 224.22 397.22 C214.72 398.39 190.89 399.72 184.22 400.22" stroke="#4fffaf" stroke-width="1.1" fill="none" opacity="0.9"/><path d="M226.6 305.0 C228.05 308.34 232.26 320.36 235.32 325.04 C238.38 329.71 243.27 329.86 244.96 333.04 C246.65 336.22 245.24 340.42 245.45 344.12 C245.67 347.81 245.55 351.51 246.26 355.20 C246.97 358.89 248.30 362.59 249.69 366.28 C251.09 369.98 253.49 373.67 254.63 377.36 C255.76 381.06 256.59 385.76 256.50 388.44 C256.40 391.12 254.45 392.61 254.04 393.44" stroke="#20ffde" stroke-width="2.6" fill="none" stroke-linejoin="round" stroke-linecap="round"/><path d="M254.0 393.4 C251.21 394.11 246.54 396.28 237.04 397.44 C227.54 398.61 203.71 399.94 197.04 400.44" stroke="#20ffde" stroke-width="1.1" fill="none" opacity="0.9"/><path d="M241.2 305.0 C242.65 307.98 246.83 318.57 249.89 322.89 C252.95 327.20 258.13 327.63 259.54 330.89 C260.96 334.15 258.28 338.59 258.40 342.44 C258.51 346.30 259.26 350.15 260.24 354.00 C261.23 357.85 263.28 361.70 264.32 365.56 C265.37 369.41 265.62 373.26 266.52 377.11 C267.42 380.96 269.66 385.91 269.72 388.67 C269.77 391.43 267.34 392.83 266.87 393.67" stroke="#00efff" stroke-width="2.7" fill="none" stroke-linejoin="round" stroke-linecap="round"/><path d="M266.9 393.7 C264.03 394.33 259.37 396.50 249.87 397.67 C240.37 398.83 216.53 400.17 209.87 400.67" stroke="#00efff" stroke-width="1.1" fill="none" opacity="0.9"/><path d="M255.8 305.0 C257.51 307.62 262.85 316.78 266.04 320.74 C269.23 324.70 273.67 325.40 274.92 328.74 C276.17 332.08 273.71 336.76 273.55 340.77 C273.39 344.78 273.46 348.79 273.94 352.80 C274.42 356.81 275.18 360.82 276.43 364.83 C277.67 368.84 280.20 372.85 281.42 376.86 C282.63 380.87 283.99 386.05 283.71 388.89 C283.42 391.73 280.36 393.06 279.69 393.89" stroke="#00c0ff" stroke-width="2.8" fill="none" stroke-linejoin="round" stroke-linecap="round"/><path d="M279.7 393.9 C276.86 394.56 272.19 396.72 262.69 397.89 C253.19 399.06 229.36 400.39 222.69 400.89" stroke="#00c0ff" stroke-width="1.1" fill="none" opacity="0.9"/><path d="M270.4 305.0 C272.19 307.27 277.94 314.99 281.17 318.59 C284.40 322.19 288.64 323.18 289.78 326.59 C290.93 330.01 288.35 334.93 288.03 339.10 C287.71 343.26 287.13 347.43 287.87 351.60 C288.62 355.77 291.40 359.94 292.51 364.10 C293.61 368.27 293.96 372.44 294.51 376.61 C295.07 380.78 296.18 386.19 295.84 389.11 C295.51 392.03 293.07 393.28 292.51 394.11" stroke="#0090ff" stroke-width="3.0" fill="none" stroke-linejoin="round" stroke-linecap="round"/><path d="M292.5 394.1 C289.68 394.78 285.01 396.94 275.51 398.11 C266.01 399.28 242.18 400.61 235.51 401.11" stroke="#0090ff" stroke-width="1.1" fill="none" opacity="0.9"/><path d="M285.0 305.0 C286.42 306.91 290.48 313.20 293.52 316.44 C296.57 319.69 301.79 320.95 303.26 324.44 C304.73 327.94 302.57 333.10 302.35 337.42 C302.12 341.75 301.41 346.07 301.90 350.40 C302.38 354.73 304.62 359.05 305.25 363.38 C305.89 367.70 305.00 372.03 305.69 376.36 C306.37 380.68 309.43 386.34 309.37 389.33 C309.31 392.33 306.01 393.50 305.33 394.33" stroke="#0060ff" stroke-width="3.1" fill="none" stroke-linejoin="round" stroke-linecap="round"/><path d="M305.3 394.3 C302.50 395.00 297.83 397.17 288.33 398.33 C278.83 399.50 255.00 400.83 248.33 401.33" stroke="#0060ff" stroke-width="1.1" fill="none" opacity="0.9"/><path d="M299.6 305.0 C301.09 306.55 305.48 311.41 308.56 314.30 C311.64 317.18 316.87 318.72 318.08 322.30 C319.29 325.87 316.29 331.26 315.82 335.75 C315.34 340.23 315.00 344.72 315.24 349.20 C315.48 353.68 316.50 358.17 317.26 362.65 C318.03 367.14 319.00 371.62 319.83 376.10 C320.67 380.59 322.56 386.48 322.28 389.56 C322.00 392.63 318.84 393.72 318.16 394.56" stroke="#0031ff" stroke-width="3.3" fill="none" stroke-linejoin="round" stroke-linecap="round"/><path d="M318.2 394.6 C315.32 395.22 310.66 397.39 301.16 398.56 C291.66 399.72 267.82 401.06 261.16 401.56" stroke="#0031ff" stroke-width="1.1" fill="none" opacity="0.9"/><path d="M314.2 305.0 C316.09 306.19 322.26 309.62 325.54 312.15 C328.81 314.67 333.39 316.49 333.87 320.15 C334.35 323.80 329.23 329.43 328.41 334.07 C327.59 338.72 328.54 343.36 328.96 348.00 C329.38 352.64 330.31 357.28 330.93 361.93 C331.54 366.57 332.37 371.21 332.65 375.85 C332.92 380.49 332.85 386.62 332.57 389.78 C332.29 392.93 331.24 393.94 330.98 394.78" stroke="#0001ff" stroke-width="3.4" fill="none" stroke-linejoin="round" stroke-linecap="round"/><path d="M331.0 394.8 C328.14 395.44 323.48 397.61 313.98 398.78 C304.48 399.94 280.64 401.28 273.98 401.78" stroke="#0001ff" stroke-width="1.1" fill="none" opacity="0.9"/><path d="M328.8 305.0 C330.51 305.83 335.85 307.83 339.03 310.00 C342.22 312.17 347.35 314.27 347.92 318.00 C348.48 321.73 343.08 327.60 342.42 332.40 C341.76 337.20 343.29 342.00 343.96 346.80 C344.63 351.60 345.85 356.40 346.45 361.20 C347.05 366.00 347.40 370.80 347.54 375.60 C347.68 380.40 347.93 386.77 347.30 390.00 C346.68 393.23 344.38 394.17 343.80 395.00" stroke="#0000d1" stroke-width="3.6" fill="none" stroke-linejoin="round" stroke-linecap="round"/><path d="M343.8 395.0 C340.97 395.67 336.30 397.83 326.80 399.00 C317.30 400.17 293.47 401.50 286.80 402.00" stroke="#0000d1" stroke-width="1.1" fill="none" opacity="0.9"/><path d="M78 318 L92 315 L100 321 L112 319" stroke="#ffdb00" stroke-width="2.6" fill="none"/><path d="M112 311 L128 309 L138 316 L150 314" stroke="#e5ff19" stroke-width="2.6" fill="none"/><path d="M125 327 L138 322 L150 327 L162 325" stroke="#f9ff05" stroke-width="2.6" fill="none"/><path d="M162 310 L180 310 L192 318 L210 316" stroke="#93ff6b" stroke-width="2.6" fill="none"/><path d="M205 309 L222 309 L232 316 L250 316" stroke="#4cffb2" stroke-width="2.6" fill="none"/></g><rect x="77.9" y="306" width="276.5" height="109" fill="none" stroke="#3a9a5a" stroke-width="0.9"/><path d="M312 406 L328 400 L331 390 L336 400 L332 409 L316 411 Z" fill="#0010d0"/>
<clipPath id="cprop2"><rect x="426.5" y="287.8" width="261.5" height="127.19999999999999"/></clipPath><g clip-path="url(#cprop2)"><path d="M426.5 402.0 Q 540 398.0 688 388.0" stroke="url(#fanmid)" stroke-width="0.8" fill="none" opacity="0.65"/><path d="M426.5 403.3 Q 540 399.3 688 390.0" stroke="url(#fanmid)" stroke-width="0.8" fill="none" opacity="0.65"/><path d="M426.5 404.6 Q 540 400.6 688 392.0" stroke="url(#fanmid)" stroke-width="0.8" fill="none" opacity="0.65"/><path d="M426.5 405.9 Q 540 401.9 688 394.0" stroke="url(#fanmid)" stroke-width="0.8" fill="none" opacity="0.65"/><path d="M426.5 407.2 Q 540 403.2 688 396.0" stroke="url(#fanmid)" stroke-width="0.8" fill="none" opacity="0.65"/><path d="M426.5 408.5 Q 540 404.5 688 398.0" stroke="url(#fanmid)" stroke-width="0.8" fill="none" opacity="0.65"/><path d="M426.5 409.8 Q 540 405.8 688 400.0" stroke="url(#fanmid)" stroke-width="0.8" fill="none" opacity="0.65"/><path d="M426.5 411.1 Q 540 407.1 688 402.0" stroke="url(#fanmid)" stroke-width="0.8" fill="none" opacity="0.65"/><path d="M426.5 412.4 Q 540 408.4 688 404.0" stroke="url(#fanmid)" stroke-width="0.8" fill="none" opacity="0.65"/><path d="M426.5 413.7 Q 540 409.7 688 406.0" stroke="url(#fanmid)" stroke-width="0.8" fill="none" opacity="0.65"/><path d="M426.5 415.0 Q 540 411.0 688 408.0" stroke="url(#fanmid)" stroke-width="0.8" fill="none" opacity="0.65"/><path d="M426.5 416.3 Q 540 412.3 688 410.0" stroke="url(#fanmid)" stroke-width="0.8" fill="none" opacity="0.65"/><path d="M375.0 322.0 C380.00 322.67 396.83 324.67 405.00 326.00 C413.17 327.33 420.17 328.33 424.00 330.00 C427.83 331.67 427.33 335.00 428.00 336.00" stroke="#00efff" stroke-width="1.0" fill="none" opacity="0.85"/><path d="M428.0 336.0 C428.12 337.67 427.98 342.33 428.71 346.00 C429.43 349.67 431.40 354.00 432.33 358.00 C433.25 362.00 433.07 366.00 434.26 370.00 C435.46 374.00 439.52 378.50 439.48 382.00 C439.43 385.50 434.91 389.50 434.00 391.00" stroke="#00efff" stroke-width="2.2" fill="none" stroke-linecap="round"/><path d="M434.0 391.0 C432.00 391.83 429.33 394.50 422.00 396.00 C414.67 397.50 395.33 399.33 390.00 400.00" stroke="#00efff" stroke-width="1.0" fill="none" opacity="0.85"/><path d="M386.0 322.2 C391.00 322.85 407.83 324.70 416.00 326.00 C424.17 327.30 431.17 328.33 435.00 330.00 C438.83 331.67 438.33 335.00 439.00 336.00" stroke="#56ffa8" stroke-width="1.0" fill="none" opacity="0.85"/><path d="M439.0 336.0 C439.32 337.67 439.80 342.33 440.94 346.00 C442.07 349.67 444.93 354.00 445.83 358.00 C446.73 362.00 445.52 366.00 446.35 370.00 C447.18 374.00 451.02 378.50 450.80 382.00 C450.57 385.50 445.97 389.50 445.00 391.00" stroke="#56ffa8" stroke-width="2.2" fill="none" stroke-linecap="round"/><path d="M445.0 391.0 C443.00 391.83 440.33 394.50 433.00 396.00 C425.67 397.50 406.33 399.33 401.00 400.00" stroke="#56ffa8" stroke-width="1.0" fill="none" opacity="0.85"/><path d="M397.0 322.4 C402.00 323.03 418.83 324.74 427.00 326.00 C435.17 327.26 442.17 328.33 446.00 330.00 C449.83 331.67 449.33 335.00 450.00 336.00" stroke="#bcff42" stroke-width="1.0" fill="none" opacity="0.85"/><path d="M450.0 336.0 C450.48 337.67 451.73 342.33 452.85 346.00 C453.98 349.67 455.70 354.00 456.73 358.00 C457.77 362.00 458.26 366.00 459.06 370.00 C459.85 374.00 462.00 378.50 461.49 382.00 C460.98 385.50 456.92 389.50 456.00 391.00" stroke="#bcff42" stroke-width="2.2" fill="none" stroke-linecap="round"/><path d="M456.0 391.0 C454.00 391.83 451.33 394.50 444.00 396.00 C436.67 397.50 417.33 399.33 412.00 400.00" stroke="#bcff42" stroke-width="1.0" fill="none" opacity="0.85"/><path d="M408.0 322.7 C413.00 323.22 429.83 324.78 438.00 326.00 C446.17 327.22 453.17 328.33 457.00 330.00 C460.83 331.67 460.33 335.00 461.00 336.00" stroke="#ffef00" stroke-width="1.0" fill="none" opacity="0.85"/><path d="M461.0 336.0 C461.28 337.67 461.53 342.33 462.70 346.00 C463.88 349.67 466.78 354.00 468.05 358.00 C469.31 362.00 469.77 366.00 470.31 370.00 C470.84 374.00 471.81 378.50 471.26 382.00 C470.71 385.50 467.71 389.50 467.00 391.00" stroke="#ffef00" stroke-width="2.2" fill="none" stroke-linecap="round"/><path d="M467.0 391.0 C465.00 391.83 462.33 394.50 455.00 396.00 C447.67 397.50 428.33 399.33 423.00 400.00" stroke="#ffef00" stroke-width="1.0" fill="none" opacity="0.85"/><path d="M419.0 322.9 C424.00 323.40 440.83 324.81 449.00 326.00 C457.17 327.19 464.17 328.33 468.00 330.00 C471.83 331.67 471.33 335.00 472.00 336.00" stroke="#ff9e00" stroke-width="1.0" fill="none" opacity="0.85"/><path d="M472.0 336.0 C472.08 337.67 471.41 342.33 472.49 346.00 C473.57 349.67 476.95 354.00 478.50 358.00 C480.05 362.00 480.97 366.00 481.78 370.00 C482.59 374.00 484.00 378.50 483.37 382.00 C482.74 385.50 478.89 389.50 478.00 391.00" stroke="#ff9e00" stroke-width="2.2" fill="none" stroke-linecap="round"/><path d="M478.0 391.0 C476.00 391.83 473.33 394.50 466.00 396.00 C458.67 397.50 439.33 399.33 434.00 400.00" stroke="#ff9e00" stroke-width="1.0" fill="none" opacity="0.85"/><path d="M431.0 323.1 C436.00 323.60 452.83 324.85 461.00 326.00 C469.17 327.15 476.17 328.33 480.00 330.00 C483.83 331.67 483.33 335.00 484.00 336.00" stroke="#ff4c00" stroke-width="1.0" fill="none" opacity="0.85"/><path d="M484.0 336.0 C484.30 337.67 484.58 342.33 485.79 346.00 C486.99 349.67 490.43 354.00 491.22 358.00 C492.00 362.00 489.89 366.00 490.50 370.00 C491.12 374.00 494.98 378.50 494.90 382.00 C494.82 385.50 490.82 389.50 490.00 391.00" stroke="#ff4c00" stroke-width="2.2" fill="none" stroke-linecap="round"/><path d="M490.0 391.0 C488.00 391.83 485.33 394.50 478.00 396.00 C470.67 397.50 451.33 399.33 446.00 400.00" stroke="#ff4c00" stroke-width="1.0" fill="none" opacity="0.85"/><path d="M443.0 323.4 C448.00 323.80 464.83 324.89 473.00 326.00 C481.17 327.11 488.17 328.33 492.00 330.00 C495.83 331.67 495.33 335.00 496.00 336.00" stroke="#ff0f00" stroke-width="1.0" fill="none" opacity="0.85"/><path d="M496.0 336.0 C496.45 337.67 497.72 342.33 498.71 346.00 C499.71 349.67 501.04 354.00 501.99 358.00 C502.94 362.00 503.49 366.00 504.41 370.00 C505.33 374.00 507.92 378.50 507.51 382.00 C507.11 385.50 502.92 389.50 502.00 391.00" stroke="#ff0f00" stroke-width="2.2" fill="none" stroke-linecap="round"/><path d="M502.0 391.0 C500.00 391.83 497.33 394.50 490.00 396.00 C482.67 397.50 463.33 399.33 458.00 400.00" stroke="#ff0f00" stroke-width="1.0" fill="none" opacity="0.85"/><path d="M455.0 323.6 C460.00 324.00 476.83 324.93 485.00 326.00 C493.17 327.07 500.17 328.33 504.00 330.00 C507.83 331.67 507.33 335.00 508.00 336.00" stroke="#d10000" stroke-width="1.0" fill="none" opacity="0.85"/><path d="M508.0 336.0 C508.15 337.67 508.13 342.33 508.93 346.00 C509.73 349.67 511.39 354.00 512.81 358.00 C514.23 362.00 516.50 366.00 517.46 370.00 C518.42 374.00 519.15 378.50 518.58 382.00 C518.00 385.50 514.76 389.50 514.00 391.00" stroke="#d10000" stroke-width="2.2" fill="none" stroke-linecap="round"/><path d="M514.0 391.0 C512.00 391.83 509.33 394.50 502.00 396.00 C494.67 397.50 475.33 399.33 470.00 400.00" stroke="#d10000" stroke-width="1.0" fill="none" opacity="0.85"/><path d="M467.0 323.8 C472.00 324.20 488.83 324.97 497.00 326.00 C505.17 327.03 512.17 328.33 516.00 330.00 C519.83 331.67 519.33 335.00 520.00 336.00" stroke="#b20000" stroke-width="1.0" fill="none" opacity="0.85"/><path d="M520.0 336.0 C520.15 337.67 519.96 342.33 520.91 346.00 C521.87 349.67 524.39 354.00 525.75 358.00 C527.12 362.00 528.14 366.00 529.10 370.00 C530.06 374.00 532.01 378.50 531.49 382.00 C530.97 385.50 526.92 389.50 526.00 391.00" stroke="#b20000" stroke-width="2.2" fill="none" stroke-linecap="round"/><path d="M526.0 391.0 C524.00 391.83 521.33 394.50 514.00 396.00 C506.67 397.50 487.33 399.33 482.00 400.00" stroke="#b20000" stroke-width="1.0" fill="none" opacity="0.85"/><path d="M479.0 324.1 C484.00 324.40 500.83 325.01 509.00 326.00 C517.17 326.99 524.17 328.33 528.00 330.00 C531.83 331.67 531.33 335.00 532.00 336.00" stroke="#d10000" stroke-width="1.0" fill="none" opacity="0.85"/><path d="M532.0 336.0 C532.12 337.67 531.69 342.33 532.69 346.00 C533.69 349.67 536.57 354.00 537.99 358.00 C539.41 362.00 540.34 366.00 541.21 370.00 C542.09 374.00 543.79 378.50 543.26 382.00 C542.72 385.50 538.88 389.50 538.00 391.00" stroke="#d10000" stroke-width="2.2" fill="none" stroke-linecap="round"/><path d="M538.0 391.0 C536.00 391.83 533.33 394.50 526.00 396.00 C518.67 397.50 499.33 399.33 494.00 400.00" stroke="#d10000" stroke-width="1.0" fill="none" opacity="0.85"/><path d="M491.0 324.3 C496.00 324.60 512.83 325.05 521.00 326.00 C529.17 326.95 536.17 328.33 540.00 330.00 C543.83 331.67 543.33 335.00 544.00 336.00" stroke="#f90000" stroke-width="1.0" fill="none" opacity="0.85"/><path d="M544.0 336.0 C544.30 337.67 544.96 342.33 545.82 346.00 C546.69 349.67 548.33 354.00 549.19 358.00 C550.05 362.00 550.22 366.00 550.97 370.00 C551.72 374.00 553.85 378.50 553.69 382.00 C553.53 385.50 550.62 389.50 550.00 391.00" stroke="#f90000" stroke-width="2.2" fill="none" stroke-linecap="round"/><path d="M550.0 391.0 C548.00 391.83 545.33 394.50 538.00 396.00 C530.67 397.50 511.33 399.33 506.00 400.00" stroke="#f90000" stroke-width="1.0" fill="none" opacity="0.85"/><path d="M503.0 324.6 C508.00 324.80 524.83 325.09 533.00 326.00 C541.17 326.91 548.17 328.33 552.00 330.00 C555.83 331.67 555.33 335.00 556.00 336.00" stroke="#ff3800" stroke-width="1.0" fill="none" opacity="0.85"/><path d="M556.0 336.0 C556.62 337.67 558.76 342.33 559.74 346.00 C560.71 349.67 561.37 354.00 561.83 358.00 C562.28 362.00 562.05 366.00 562.47 370.00 C562.88 374.00 564.39 378.50 564.31 382.00 C564.24 385.50 562.39 389.50 562.00 391.00" stroke="#ff3800" stroke-width="2.2" fill="none" stroke-linecap="round"/><path d="M562.0 391.0 C560.00 391.83 557.33 394.50 550.00 396.00 C542.67 397.50 523.33 399.33 518.00 400.00" stroke="#ff3800" stroke-width="1.0" fill="none" opacity="0.85"/><path d="M515.0 324.8 C520.00 325.00 536.83 325.13 545.00 326.00 C553.17 326.87 560.17 328.33 564.00 330.00 C567.83 331.67 567.33 335.00 568.00 336.00" stroke="#ff8900" stroke-width="1.0" fill="none" opacity="0.85"/><path d="M568.0 336.0 C568.22 337.67 568.14 342.33 569.31 346.00 C570.49 349.67 574.22 354.00 575.05 358.00 C575.88 362.00 574.00 366.00 574.27 370.00 C574.54 374.00 576.73 378.50 576.69 382.00 C576.64 385.50 574.45 389.50 574.00 391.00" stroke="#ff8900" stroke-width="2.2" fill="none" stroke-linecap="round"/><path d="M574.0 391.0 C572.00 391.83 569.33 394.50 562.00 396.00 C554.67 397.50 535.33 399.33 530.00 400.00" stroke="#ff8900" stroke-width="1.0" fill="none" opacity="0.85"/><path d="M527.0 325.0 C532.00 325.20 548.83 325.17 557.00 326.00 C565.17 326.83 572.17 328.33 576.00 330.00 C579.83 331.67 579.33 335.00 580.00 336.00" stroke="#ffdb00" stroke-width="1.0" fill="none" opacity="0.85"/><path d="M580.0 336.0 C580.12 337.67 579.98 342.33 580.71 346.00 C581.44 349.67 583.08 354.00 584.37 358.00 C585.66 362.00 587.56 366.00 588.47 370.00 C589.37 374.00 590.22 378.50 589.81 382.00 C589.40 385.50 586.63 389.50 586.00 391.00" stroke="#ffdb00" stroke-width="2.2" fill="none" stroke-linecap="round"/><path d="M586.0 391.0 C584.00 391.83 581.33 394.50 574.00 396.00 C566.67 397.50 547.33 399.33 542.00 400.00" stroke="#ffdb00" stroke-width="1.0" fill="none" opacity="0.85"/><path d="M539.0 325.3 C544.00 325.40 560.83 325.21 569.00 326.00 C577.17 326.79 584.17 328.33 588.00 330.00 C591.83 331.67 591.33 335.00 592.00 336.00" stroke="#d1ff2d" stroke-width="1.0" fill="none" opacity="0.85"/><path d="M592.0 336.0 C592.44 337.67 593.84 342.33 594.66 346.00 C595.48 349.67 596.04 354.00 596.92 358.00 C597.79 362.00 599.26 366.00 599.91 370.00 C600.56 374.00 601.16 378.50 600.84 382.00 C600.52 385.50 598.47 389.50 598.00 391.00" stroke="#d1ff2d" stroke-width="2.2" fill="none" stroke-linecap="round"/><path d="M598.0 391.0 C596.00 391.83 593.33 394.50 586.00 396.00 C578.67 397.50 559.33 399.33 554.00 400.00" stroke="#d1ff2d" stroke-width="1.0" fill="none" opacity="0.85"/><path d="M551.0 325.5 C556.00 325.60 572.83 325.25 581.00 326.00 C589.17 326.75 596.17 328.33 600.00 330.00 C603.83 331.67 603.33 335.00 604.00 336.00" stroke="#7fff7f" stroke-width="1.0" fill="none" opacity="0.85"/><path d="M604.0 336.0 C604.20 337.67 604.27 342.33 605.18 346.00 C606.09 349.67 608.19 354.00 609.44 358.00 C610.70 362.00 611.94 366.00 612.71 370.00 C613.48 374.00 614.53 378.50 614.07 382.00 C613.62 385.50 610.68 389.50 610.00 391.00" stroke="#7fff7f" stroke-width="2.2" fill="none" stroke-linecap="round"/><path d="M610.0 391.0 C608.00 391.83 605.33 394.50 598.00 396.00 C590.67 397.50 571.33 399.33 566.00 400.00" stroke="#7fff7f" stroke-width="1.0" fill="none" opacity="0.85"/><path d="M564.0 325.8 C569.00 325.82 585.83 325.30 594.00 326.00 C602.17 326.70 609.17 328.33 613.00 330.00 C616.83 331.67 616.33 335.00 617.00 336.00" stroke="#2dffd1" stroke-width="1.0" fill="none" opacity="0.85"/><path d="M617.0 336.0 C617.58 337.67 619.71 342.33 620.46 346.00 C621.21 349.67 620.50 354.00 621.51 358.00 C622.53 362.00 625.51 366.00 626.56 370.00 C627.61 374.00 628.39 378.50 627.80 382.00 C627.21 385.50 623.80 389.50 623.00 391.00" stroke="#2dffd1" stroke-width="2.2" fill="none" stroke-linecap="round"/><path d="M623.0 391.0 C621.00 391.83 618.33 394.50 611.00 396.00 C603.67 397.50 584.33 399.33 579.00 400.00" stroke="#2dffd1" stroke-width="1.0" fill="none" opacity="0.85"/><path d="M577.0 326.0 C582.00 326.03 598.83 325.34 607.00 326.00 C615.17 326.66 622.17 328.33 626.00 330.00 C629.83 331.67 629.33 335.00 630.00 336.00" stroke="#00efff" stroke-width="1.0" fill="none" opacity="0.85"/><path d="M630.0 336.0 C630.26 337.67 630.52 342.33 631.56 346.00 C632.60 349.67 634.95 354.00 636.25 358.00 C637.55 362.00 638.56 366.00 639.37 370.00 C640.17 374.00 641.63 378.50 641.07 382.00 C640.51 385.50 636.84 389.50 636.00 391.00" stroke="#00efff" stroke-width="2.2" fill="none" stroke-linecap="round"/><path d="M636.0 391.0 C634.00 391.83 631.33 394.50 624.00 396.00 C616.67 397.50 597.33 399.33 592.00 400.00" stroke="#00efff" stroke-width="1.0" fill="none" opacity="0.85"/><path d="M658.0 290.0 C659.71 291.67 669.31 296.33 668.44 300.00 C667.57 303.67 656.02 307.67 652.73 312.00 C649.44 316.33 649.87 321.33 648.72 326.00 C647.56 330.67 645.73 335.33 645.80 340.00 C645.87 344.67 648.19 349.33 649.15 354.00 C650.10 358.67 650.74 363.33 651.51 368.00 C652.28 372.67 654.20 378.17 653.78 382.00 C653.37 385.83 649.80 389.50 649.00 391.00" stroke="#00b2ff" stroke-width="3.0" fill="none" stroke-linecap="round"/><path d="M649.0 391.0 C647.00 391.83 644.33 394.50 637.00 396.00 C629.67 397.50 610.33 399.33 605.00 400.00" stroke="#00b2ff" stroke-width="1.0" fill="none" opacity="0.85"/><path d="M674.3 290.0 C675.31 291.67 682.25 296.33 680.45 300.00 C678.66 303.67 666.78 307.67 663.50 312.00 C660.22 316.33 661.51 321.33 660.79 326.00 C660.06 330.67 658.76 335.33 659.13 340.00 C659.51 344.67 662.18 349.33 663.05 354.00 C663.92 358.67 663.45 363.33 664.35 368.00 C665.26 372.67 668.70 378.17 668.48 382.00 C668.25 385.83 663.91 389.50 663.00 391.00" stroke="#0060ff" stroke-width="3.0" fill="none" stroke-linecap="round"/><path d="M663.0 391.0 C661.00 391.83 658.33 394.50 651.00 396.00 C643.67 397.50 624.33 399.33 619.00 400.00" stroke="#0060ff" stroke-width="1.0" fill="none" opacity="0.85"/><path d="M687.1 290.0 C688.00 291.67 693.77 296.33 692.43 300.00 C691.09 303.67 682.35 307.67 679.08 312.00 C675.81 316.33 673.97 321.33 672.82 326.00 C671.67 330.67 671.66 335.33 672.18 340.00 C672.70 344.67 675.00 349.33 675.97 354.00 C676.93 358.67 677.57 363.33 677.95 368.00 C678.34 372.67 678.63 378.17 678.30 382.00 C677.98 385.83 676.38 389.50 676.00 391.00" stroke="#0019ff" stroke-width="3.0" fill="none" stroke-linecap="round"/><path d="M676.0 391.0 C674.00 391.83 671.33 394.50 664.00 396.00 C656.67 397.50 637.33 399.33 632.00 400.00" stroke="#0019ff" stroke-width="1.0" fill="none" opacity="0.85"/><path d="M698.1 290.0 C699.52 291.67 707.94 296.33 706.80 300.00 C705.67 303.67 694.58 307.67 691.22 312.00 C687.87 316.33 687.98 321.33 686.68 326.00 C685.38 330.67 683.18 335.33 683.41 340.00 C683.63 344.67 687.15 349.33 688.04 354.00 C688.92 358.67 688.26 363.33 688.71 368.00 C689.16 372.67 690.85 378.17 690.74 382.00 C690.62 385.83 688.46 389.50 688.00 391.00" stroke="#0000e5" stroke-width="3.0" fill="none" stroke-linecap="round"/><path d="M688.0 391.0 C686.00 391.83 683.33 394.50 676.00 396.00 C668.67 397.50 649.33 399.33 644.00 400.00" stroke="#0000e5" stroke-width="1.0" fill="none" opacity="0.85"/><path d="M562.0 289.0 C565.30 290.50 580.45 295.17 581.78 298.00 C583.11 300.83 572.63 303.33 569.97 306.00 C567.31 308.67 565.40 311.00 565.80 314.00 C566.19 317.00 569.31 320.67 572.34 324.00 C575.38 327.33 582.06 332.33 584.00 334.00" stroke="#05fff9" stroke-width="2.8" fill="none"/><path d="M590.0 289.0 C593.02 290.50 606.91 295.17 608.11 298.00 C609.30 300.83 599.69 303.33 597.16 306.00 C594.63 308.67 592.02 311.00 592.92 314.00 C593.81 317.00 599.37 320.67 602.56 324.00 C605.74 327.33 610.43 332.33 612.00 334.00" stroke="#00bcff" stroke-width="2.8" fill="none"/><path d="M616.0 289.0 C619.23 290.50 634.00 295.17 635.37 298.00 C636.75 300.83 627.26 303.33 624.24 306.00 C621.22 308.67 616.70 311.00 617.25 314.00 C617.79 317.00 624.07 320.67 627.52 324.00 C630.98 327.33 636.25 332.33 638.00 334.00" stroke="#007fff" stroke-width="2.8" fill="none"/><path d="M430.0 289.0 C431.29 290.33 437.64 294.50 437.76 297.00 C437.88 299.50 429.75 301.50 430.72 304.00 C431.68 306.50 438.99 309.33 443.54 312.00 C448.10 314.67 452.82 317.67 458.06 320.00 C463.30 322.33 472.18 325.00 475.00 326.00" stroke="#ff8900" stroke-width="2.5" fill="none"/><path d="M442.0 289.0 C443.05 290.33 448.21 294.50 448.32 297.00 C448.44 299.50 441.71 301.50 442.68 304.00 C443.66 306.50 449.94 309.33 454.16 312.00 C458.38 314.67 462.54 317.67 468.01 320.00 C473.49 322.33 483.84 325.00 487.00 326.00" stroke="#ffbc00" stroke-width="2.5" fill="none"/><path d="M455.0 289.0 C455.65 290.33 458.24 294.50 458.92 297.00 C459.60 299.50 457.71 301.50 459.07 304.00 C460.42 306.50 463.49 309.33 467.07 312.00 C470.65 314.67 475.07 317.67 480.56 320.00 C486.05 322.33 496.76 325.00 500.00 326.00" stroke="#ffef00" stroke-width="2.5" fill="none"/><path d="M468.0 289.0 C469.05 290.33 473.95 294.50 474.28 297.00 C474.60 299.50 468.87 301.50 469.96 304.00 C471.05 306.50 477.15 309.33 480.84 312.00 C484.53 314.67 486.73 317.67 492.09 320.00 C497.45 322.33 509.51 325.00 513.00 326.00" stroke="#e5ff19" stroke-width="2.5" fill="none"/><path d="M482.0 289.0 C482.94 290.33 486.95 294.50 487.62 297.00 C488.29 299.50 484.64 301.50 486.01 304.00 C487.38 306.50 492.37 309.33 495.86 312.00 C499.36 314.67 501.80 317.67 506.98 320.00 C512.17 322.33 523.66 325.00 527.00 326.00" stroke="#bcff42" stroke-width="2.5" fill="none"/><path d="M500.0 289.0 C500.73 290.33 504.07 294.50 504.36 297.00 C504.64 299.50 500.20 301.50 501.71 304.00 C503.21 306.50 509.05 309.33 513.39 312.00 C517.73 314.67 522.49 317.67 527.76 320.00 C533.03 322.33 542.13 325.00 545.00 326.00" stroke="#93ff6b" stroke-width="2.5" fill="none"/><path d="M522.0 289.0 C522.87 290.33 527.09 294.50 527.20 297.00 C527.30 299.50 521.42 301.50 522.64 304.00 C523.86 306.50 529.98 309.33 534.52 312.00 C539.06 314.67 544.46 317.67 549.87 320.00 C555.28 322.33 564.15 325.00 567.00 326.00" stroke="#60ff9e" stroke-width="2.5" fill="none"/><path d="M545.0 289.0 C546.20 290.33 552.25 294.50 552.23 297.00 C552.21 299.50 544.33 301.50 544.90 304.00 C545.47 306.50 551.50 309.33 555.65 312.00 C559.80 314.67 564.08 317.67 569.80 320.00 C575.52 322.33 586.63 325.00 590.00 326.00" stroke="#2dffd1" stroke-width="2.5" fill="none"/><path d="M500 296 Q 512 290 522 298 Q 520 306 510 304 Q 500 304 500 296 Z" fill="#50c850"/></g><rect x="426.5" y="287.8" width="261.5" height="127.19999999999999" fill="none" stroke="#3a9a5a" stroke-width="0.9"/><path d="M652 412 L666 404 L670 390 L674 402 L688 406 L688 414 L656 414 Z" fill="#0010d0"/>
<clipPath id="chm1"><rect x="79.2" y="488" width="275.2" height="107.6"/></clipPath><g clip-path="url(#chm1)" opacity="0.94"><g filter="url(#hmn)"><rect x="69.2" y="478" width="295.2" height="127.6" fill="#3cb2a8"/><ellipse cx="220" cy="534" rx="80" ry="11" fill="#5cb89c"/><path d="M70 548 Q 200 546 360 548 L360 562 Q 200 560 70 562 Z" fill="#34a6b4"/><path d="M70 561 Q 200 559 360 561 L360 577 Q 200 578 70 576 Z" fill="#2a84c4"/><path d="M70 577 Q 200 579 360 577 L360 600 L70 600 Z" fill="#42ae96"/><path d="M296 480 L360 480 L360 526 Q 330 520 312 512 Q 298 500 296 480 Z" fill="#2e9ac8"/><ellipse cx="338" cy="494" rx="16" ry="6" fill="#2a78c8"/><path d="M70 480 L308 480 Q 312 496 300 506 Q 275 512 250 510 Q 225 516 200 514 Q 170 510 150 515 Q 120 520 100 519 Q 85 520 70 518 Z" fill="#d8a030"/><path d="M70 480 L304 480 Q 306 494 296 502 Q 272 508 250 506 Q 225 512 200 510 Q 170 506 150 511 Q 120 516 100 515 Q 85 516 70 514 Z" fill="#8c0404"/><ellipse cx="190" cy="498" rx="20" ry="4" fill="#c03810"/><ellipse cx="275" cy="504" rx="14" ry="3" fill="#9a0a06"/><ellipse cx="320" cy="525" rx="12" ry="6" fill="#e0c040"/><ellipse cx="320" cy="525" rx="7" ry="3.5" fill="#d83818"/><path d="M185 600 Q 190 586 215 584 Q 250 582 275 586 Q 290 590 292 600 Z" fill="#d89030"/><path d="M192 600 Q 196 589 215 587 Q 245 585 268 588 Q 282 592 288 600 Z" fill="#9a0a06"/></g><path d="M79 529 Q 200 526 354 520" stroke="#b0f4e4" stroke-width="3" fill="none" opacity="0.55" filter="url(#bl06)"/><path d="M79 548 Q 200 546 354 542" stroke="#80d8d8" stroke-width="2" fill="none" opacity="0.35"/><path d="M79 566 Q 200 565 354 563" stroke="#80c0f0" stroke-width="1.6" fill="none" opacity="0.35"/><ellipse cx="131.5" cy="513" rx="11.5" ry="4.2" fill="#000818" transform="rotate(-12 131.5 513)"/><path d="M180 596 Q 187 589 196 596 Z" fill="#000818"/><path d="M253 596 Q 262 590 290 590 Q 320 587 354 586 L354 596 Z" fill="#000818"/><path d="M300 596 Q 320 591 354 590 L354 596 Z" fill="#bcbcbc"/></g><rect x="79.2" y="488" width="275.2" height="107.6" fill="none" stroke="#3a9a6a" stroke-width="0.8"/>
<clipPath id="chm2"><rect x="426.5" y="469.8" width="261.5" height="125.8"/></clipPath><g clip-path="url(#chm2)" opacity="0.94"><g filter="url(#hmn)"><rect x="416.5" y="459.8" width="281.5" height="145.8" fill="#2c56d2"/><path d="M420 545 Q 550 550 700 552 L700 578 Q 550 576 420 574 Z" fill="#2446c8"/><path d="M420 510 Q 550 518 700 522 L700 540 Q 550 534 420 528 Z" fill="#2a86d6"/><path d="M420 470 L700 470 L700 526 Q 550 520 420 514 Z" fill="#36b4c4"/><path d="M420 460 L700 460 L700 500 Q 690 506 670 502 Q 650 508 630 506 Q 615 514 600 506 Q 585 500 570 498 Q 550 496 530 490 Q 510 490 490 491 Q 470 488 455 490 Q 440 488 420 490 Z" fill="#d06020"/><path d="M420 460 L700 460 L700 478 Q 600 482 520 481 Q 470 480 420 482 Z" fill="#b02808"/><path d="M466 478 Q 500 476 540 481 Q 528 490 500 490 Q 476 489 466 478 Z" fill="#b0c448"/><path d="M548 482 Q 575 478 600 484 L 598 494 Q 575 496 552 490 Z" fill="#e0b840"/><ellipse cx="442" cy="475" rx="15" ry="5" fill="#8a0000"/><ellipse cx="478" cy="476" rx="11" ry="4" fill="#900000"/><ellipse cx="512" cy="473" rx="13" ry="3.5" fill="#9a0800"/><ellipse cx="548" cy="477" rx="15" ry="5" fill="#8a0000"/><ellipse cx="590" cy="474" rx="12" ry="3.5" fill="#b82800"/><ellipse cx="648" cy="487" rx="30" ry="12" fill="#840000"/><ellipse cx="612" cy="502" rx="11" ry="6" fill="#9a0000"/><ellipse cx="675" cy="474" rx="14" ry="6" fill="#a81000"/><ellipse cx="585" cy="494" rx="9" ry="4" fill="#b81800"/><ellipse cx="630" cy="474" rx="12" ry="4" fill="#c03000"/><ellipse cx="665" cy="500" rx="14" ry="5" fill="#a00800"/><ellipse cx="434" cy="497" rx="8" ry="4" fill="#d87020"/><ellipse cx="520" cy="502" rx="22" ry="4" fill="#5cc4a8"/><path d="M420 600 L420 578 Q 470 574 548 580 L 556 600 Z" fill="#cc4018"/><path d="M420 600 L420 586 Q 470 583 540 588 L540 600 Z" fill="#980808"/><ellipse cx="507" cy="581" rx="14" ry="4" fill="#e07830"/><path d="M545 600 Q 600 584 700 583 L700 600 Z" fill="#c03018"/></g><path d="M426 519 Q 560 522 688 528" stroke="#80d8f0" stroke-width="2.5" fill="none" opacity="0.45" filter="url(#bl06)"/><path d="M426 545 Q 560 548 688 552" stroke="#5a90e8" stroke-width="2" fill="none" opacity="0.4"/><path d="M426 561 Q 560 563 688 566" stroke="#4a78e0" stroke-width="1.6" fill="none" opacity="0.35"/><path d="M456 580 Q 462 575 475 576 Q 487 578 484 583 Q 470 586 456 580 Z" fill="#000818"/><path d="M546 596 Q 549 586 580 586 L688 584 L688 596 Z" fill="#000818"/><path d="M606 596 L612 590 L660 589 L662 592 L640 592 L632 596 Z" fill="#a81010"/></g><rect x="426.5" y="469.8" width="261.5" height="125.8" fill="none" stroke="#3a9a6a" stroke-width="0.8"/>
<rect x="284.0" y="70.6" width="83.5" height="48.8" fill="#000" stroke="#fff" stroke-width="3"/>
<path d="M288.3 82.3 H362.4 M288.3 75.4 V88.6 M362.4 75.4 V88.6" stroke="#fff" stroke-width="2.6" fill="none"/>
<path transform="translate(287.78 115.00) scale(0.01709 -0.01709)" d="M763 0 L583 0 L583 1147 Q518 1085 415 1024.5 Q312 964 223 931 L223 1105 Q374 1176 487 1277 Q600 1378 647 1466 L763 1466 Z" fill="#fff"/>
<text x="316.97" y="115" font-size="35.0" fill="#fff" transform="matrix(1 0 0 1.04 0 -4.60)">cm</text>
<rect x="621.0" y="70.6" width="83.5" height="48.8" fill="#000" stroke="#fff" stroke-width="3"/>
<path d="M625.3 82.3 H699.4 M625.3 75.4 V88.6 M699.4 75.4 V88.6" stroke="#fff" stroke-width="2.6" fill="none"/>
<path transform="translate(624.78 115.00) scale(0.01709 -0.01709)" d="M763 0 L583 0 L583 1147 Q518 1085 415 1024.5 Q312 964 223 931 L223 1105 Q374 1176 487 1277 Q600 1378 647 1466 L763 1466 Z" fill="#fff"/>
<text x="653.97" y="115" font-size="35.0" fill="#fff" transform="matrix(1 0 0 1.04 0 -4.60)">cm</text>
<rect x="2" y="616" width="248" height="98.5" fill="#000"/>
<rect x="7.3" y="621.5" width="237.6" height="87.7" fill="#fff"/>
<clipPath id="czl"><rect x="7.3" y="621.5" width="17.1" height="88"/></clipPath>
<clipPath id="czr"><rect x="228.1" y="621.5" width="17.1" height="88"/></clipPath>
<g clip-path="url(#czl)"><path d="M9.35 598.80 L14.75 605.60 L9.35 612.40 L14.75 619.20 L9.35 626.00 L14.75 632.80 L9.35 639.60 L14.75 646.40 L9.35 653.20 L14.75 660.00 L9.35 666.80 L14.75 673.60 L9.35 680.40 L14.75 687.20 L9.35 694.00 L14.75 700.80 L9.35 707.60 L14.75 714.40 L9.35 721.20" stroke="#1232c4" stroke-width="5.3" fill="none"/><path d="M17.05 598.80 L22.45 605.60 L17.05 612.40 L22.45 619.20 L17.05 626.00 L22.45 632.80 L17.05 639.60 L22.45 646.40 L17.05 653.20 L22.45 660.00 L17.05 666.80 L22.45 673.60 L17.05 680.40 L22.45 687.20 L17.05 694.00 L22.45 700.80 L17.05 707.60 L22.45 714.40 L17.05 721.20" stroke="#3a6190" stroke-width="5.3" fill="none"/></g>
<g clip-path="url(#czr)"><path d="M243.65 598.80 L238.25 605.60 L243.65 612.40 L238.25 619.20 L243.65 626.00 L238.25 632.80 L243.65 639.60 L238.25 646.40 L243.65 653.20 L238.25 660.00 L243.65 666.80 L238.25 673.60 L243.65 680.40 L238.25 687.20 L243.65 694.00 L238.25 700.80 L243.65 707.60 L238.25 714.40 L243.65 721.20" stroke="#1232c4" stroke-width="5.3" fill="none"/><path d="M235.95 598.80 L230.55 605.60 L235.95 612.40 L230.55 619.20 L235.95 626.00 L230.55 632.80 L235.95 639.60 L230.55 646.40 L235.95 653.20 L230.55 660.00 L235.95 666.80 L230.55 673.60 L235.95 680.40 L230.55 687.20 L235.95 694.00 L230.55 700.80 L235.95 707.60 L230.55 714.40 L235.95 721.20" stroke="#3a6190" stroke-width="5.3" fill="none"/></g>
<clipPath id="czb"><rect x="24.4" y="697.7" width="203.7" height="11.8"/></clipPath><g clip-path="url(#czb)"><polygon points="24.60,697.7 31.20,697.7 35.20,703.6 31.20,709.5 24.60,709.5 28.60,703.6" fill="#1584e9"/><polygon points="33.87,697.7 40.47,697.7 44.47,703.6 40.47,709.5 33.87,709.5 37.87,703.6" fill="#15bfe9"/><polygon points="43.14,697.7 49.74,697.7 53.74,703.6 49.74,709.5 43.14,709.5 47.14,703.6" fill="#24e9d9"/><polygon points="52.41,697.7 59.01,697.7 63.01,703.6 59.01,709.5 52.41,709.5 56.41,703.6" fill="#5ee99f"/><polygon points="61.68,697.7 68.28,697.7 72.28,703.6 68.28,709.5 61.68,709.5 65.68,703.6" fill="#98e965"/><polygon points="70.95,697.7 77.55,697.7 81.55,703.6 77.55,709.5 70.95,709.5 74.95,703.6" fill="#d2e92b"/><polygon points="80.22,697.7 86.82,697.7 90.82,703.6 86.82,709.5 80.22,709.5 84.22,703.6" fill="#e9c515"/><polygon points="89.49,697.7 96.09,697.7 100.09,703.6 96.09,709.5 89.49,709.5 93.49,703.6" fill="#e98b15"/><polygon points="98.76,697.7 105.36,697.7 109.36,703.6 105.36,709.5 98.76,709.5 102.76,703.6" fill="#e95115"/><polygon points="108.03,697.7 114.63,697.7 118.63,703.6 114.63,709.5 108.03,709.5 112.03,703.6" fill="#e91715"/><polygon points="117.30,697.7 123.90,697.7 127.90,703.6 123.90,709.5 117.30,709.5 121.30,703.6" fill="#b11515"/><polygon points="126.57,697.7 133.17,697.7 137.17,703.6 133.17,709.5 126.57,709.5 130.57,703.6" fill="#b91515"/><polygon points="135.84,697.7 142.44,697.7 146.44,703.6 142.44,709.5 135.84,709.5 139.84,703.6" fill="#e91f15"/><polygon points="145.11,697.7 151.71,697.7 155.71,703.6 151.71,709.5 145.11,709.5 149.11,703.6" fill="#e95915"/><polygon points="154.38,697.7 160.98,697.7 164.98,703.6 160.98,709.5 154.38,709.5 158.38,703.6" fill="#e99315"/><polygon points="163.65,697.7 170.25,697.7 174.25,703.6 170.25,709.5 163.65,709.5 167.65,703.6" fill="#e9cd15"/><polygon points="172.92,697.7 179.52,697.7 183.52,703.6 179.52,709.5 172.92,709.5 176.92,703.6" fill="#cae933"/><polygon points="182.19,697.7 188.79,697.7 192.79,703.6 188.79,709.5 182.19,709.5 186.19,703.6" fill="#90e96d"/><polygon points="191.46,697.7 198.06,697.7 202.06,703.6 198.06,709.5 191.46,709.5 195.46,703.6" fill="#57e9a7"/><polygon points="200.73,697.7 207.33,697.7 211.33,703.6 207.33,709.5 200.73,709.5 204.73,703.6" fill="#1de9e1"/><polygon points="210.00,697.7 216.60,697.7 220.60,703.6 216.60,709.5 210.00,709.5 214.00,703.6" fill="#15b6e9"/><polygon points="219.27,697.7 225.87,697.7 229.87,703.6 225.87,709.5 219.27,709.5 223.27,703.6" fill="#157ce9"/></g>
<rect x="24.3" y="621.5" width="203.8" height="76.2" fill="#000"/>
<rect x="30.3" y="621.8" width="191.9" height="69.9" fill="#fff"/>
<text x="126.5" y="649.2" font-size="34.0" font-style="italic" text-anchor="middle" transform="matrix(1 0 0 1.04 0 -25.97)">Propagation</text>
<text x="126.5" y="681.3" font-size="34.0" font-style="italic" text-anchor="middle" transform="matrix(1 0 0 1.04 0 -27.25)">Display</text>
<defs><linearGradient id="swv" x1="262.3" x2="725.8" y1="0" y2="0" gradientUnits="userSpaceOnUse"><stop offset="0" stop-color="#4a4aa6"/><stop offset="0.09" stop-color="#4e4ed6"/><stop offset="0.14" stop-color="#4c52e2"/><stop offset="0.41" stop-color="#50d6d2"/><stop offset="0.58" stop-color="#d6d850"/><stop offset="0.72" stop-color="#e0a050"/><stop offset="0.88" stop-color="#d85050"/><stop offset="1" stop-color="#a04a4a"/></linearGradient></defs>
<rect x="256.6" y="616" width="475.1" height="98.9" fill="#000"/>
<rect x="262" y="621.7" width="464" height="88.2" fill="url(#swv)"/>
<rect x="314.2" y="616" width="359.4" height="54.9" fill="#000"/>
<rect x="319.9" y="622" width="348.1" height="43.1" fill="#fff"/>
<text x="493.8" y="652.7" font-size="35.0" font-style="italic" text-anchor="middle" transform="matrix(1 0 0 1.04 0 -26.11)">SWV Heatmap (m/s)</text>
<rect x="256.6" y="673" width="63.3" height="41.8" fill="#000"/>
<rect x="262" y="678.9" width="52.2" height="31.0" fill="#fff"/>
<text x="288.6" y="707.2" font-size="35.0" font-style="italic" text-anchor="middle" transform="matrix(1 0 0 1.04 0 -28.29)">0.5</text>
<rect x="453.3" y="673" width="81.7" height="41.8" fill="#000"/>
<rect x="459.3" y="678.9" width="70.6" height="31.0" fill="#fff"/>
<text x="495.1" y="707.2" font-size="35.0" font-style="italic" text-anchor="middle" transform="matrix(1 0 0 1.04 0 -28.29)">2.75</text>
<rect x="668.3" y="673.3" width="63.4" height="41.5" fill="#000"/>
<rect x="673.6" y="678.7" width="52.4" height="31.2" fill="#fff"/>
<text x="700.3" y="707.2" font-size="35.0" font-style="italic" text-anchor="middle" transform="matrix(1 0 0 1.04 0 -28.29)">5.0</text>
<text x="11.3" y="765.3" font-size="50.5" font-weight="bold" transform="matrix(1 0 0 1.04 0 -30.61)">b</text>
<rect x="182.8" y="732.2" width="128.79999999999998" height="41" fill="#fff" stroke="#000" stroke-width="5.6"/>
<rect x="323.5" y="732.2" width="168.20000000000002" height="41" fill="#fff" stroke="#000" stroke-width="5.6"/>
<rect x="502.5" y="732.2" width="226.30000000000004" height="41" fill="#fff" stroke="#000" stroke-width="5.6"/>
<path d="M191 742 L213.5 763.5 M213.5 742 L191 763.5" stroke="#000" stroke-width="5" stroke-linecap="round"/>
<text x="264.3" y="764.4" font-size="35.0" text-anchor="middle" transform="matrix(1 0 0 1.04 0 -30.58)">Mean</text>
<circle cx="348.7" cy="753" r="13" fill="none" stroke="#000" stroke-width="6"/>
<text x="428.7" y="764.4" font-size="35.0" text-anchor="middle" transform="matrix(1 0 0 1.04 0 -30.58)">Median</text>
<path d="M509.8 742.3 H543 M509.8 761.4 H543" stroke="#000" stroke-width="5.2" stroke-linecap="round"/>
<text x="636.5" y="764.4" font-size="35.0" text-anchor="middle" transform="matrix(1 0 0 1.04 0 -30.58)">IQR(25-75)</text>
<path d="M95.8 781 V1244.4 M86 1244.4 H736.8" stroke="#000" stroke-width="2.3" fill="none"/>
<path d="M85.6 1244.3 H96" stroke="#000" stroke-width="2.3"/>
<path transform="translate(33.35 1251.43) scale(0.01709 -0.01709)" d="M763 0 L583 0 L583 1147 Q518 1085 415 1024.5 Q312 964 223 931 L223 1105 Q374 1176 487 1277 Q600 1378 647 1466 L763 1466 Z" fill="#000"/>
<text x="52.81" y="1251.4" font-size="35.0" transform="matrix(1 0 0 1.04 0 -50.06)">.0</text>
<path d="M85.6 1178.1 H96" stroke="#000" stroke-width="2.3"/>
<path transform="translate(33.35 1185.89) scale(0.01709 -0.01709)" d="M763 0 L583 0 L583 1147 Q518 1085 415 1024.5 Q312 964 223 931 L223 1105 Q374 1176 487 1277 Q600 1378 647 1466 L763 1466 Z" fill="#000"/>
<text x="52.81" y="1185.9" font-size="35.0" transform="matrix(1 0 0 1.04 0 -47.44)">.5</text>
<path d="M85.6 1112.0 H96" stroke="#000" stroke-width="2.3"/>
<text x="82" y="1120.4" font-size="35.0" text-anchor="end" transform="matrix(1 0 0 1.04 0 -44.82)">2.0</text>
<path d="M85.6 1045.8 H96" stroke="#000" stroke-width="2.3"/>
<text x="82" y="1054.8" font-size="35.0" text-anchor="end" transform="matrix(1 0 0 1.04 0 -42.19)">2.5</text>
<path d="M85.6 979.7 H96" stroke="#000" stroke-width="2.3"/>
<text x="82" y="989.3" font-size="35.0" text-anchor="end" transform="matrix(1 0 0 1.04 0 -39.57)">3.0</text>
<path d="M85.6 913.5 H96" stroke="#000" stroke-width="2.3"/>
<text x="82" y="923.7" font-size="35.0" text-anchor="end" transform="matrix(1 0 0 1.04 0 -36.95)">3.5</text>
<path d="M85.6 847.4 H96" stroke="#000" stroke-width="2.3"/>
<text x="82" y="858.2" font-size="35.0" text-anchor="end" transform="matrix(1 0 0 1.04 0 -34.33)">4.0</text>
<path d="M85.6 781.2 H96" stroke="#000" stroke-width="2.3"/>
<text x="82" y="792.6" font-size="35.0" text-anchor="end" transform="matrix(1 0 0 1.04 0 -31.70)">4.5</text>
<text transform="translate(28.5 1010.5) rotate(-90) scale(1 1.04)" font-size="35.0" font-weight="bold" text-anchor="middle">SWV (m/s)</text>
<path d="M127.7 1244 V1254.5" stroke="#000" stroke-width="2.3"/>
<path d="M191.7 1244 V1254.5" stroke="#000" stroke-width="2.3"/>
<path d="M255.7 1244 V1254.5" stroke="#000" stroke-width="2.3"/>
<path d="M319.7 1244 V1254.5" stroke="#000" stroke-width="5"/>
<path d="M383.7 1244 V1254.5" stroke="#000" stroke-width="2.3"/>
<path d="M447.7 1244 V1254.5" stroke="#000" stroke-width="2.3"/>
<path d="M511.7 1244 V1254.5" stroke="#000" stroke-width="2.3"/>
<path d="M575.7 1244 V1254.5" stroke="#000" stroke-width="5"/>
<path d="M639.7 1244 V1254.5" stroke="#000" stroke-width="2.3"/>
<path d="M703.7 1244 V1254.5" stroke="#000" stroke-width="2.3"/>
<path d="M127.7 848 V825.75 H383.7 V848" stroke="#000" stroke-width="5.8" fill="none" stroke-linejoin="round"/><path d="M447.7 848 V825.75 H703.7 V848" stroke="#000" stroke-width="5.8" fill="none" stroke-linejoin="round"/><path d="M191.7 825.75 V848" stroke="#000" stroke-width="5.6" fill="none"/><path d="M255.7 825.75 V848" stroke="#000" stroke-width="5.6" fill="none"/><path d="M319.7 825.75 V848" stroke="#000" stroke-width="5.6" fill="none"/><path d="M511.7 825.75 V848" stroke="#000" stroke-width="5.6" fill="none"/><path d="M575.7 825.75 V848" stroke="#000" stroke-width="5.6" fill="none"/><path d="M639.7 825.75 V848" stroke="#000" stroke-width="5.6" fill="none"/><path d="M255.7 825.75 V810.9 H575.7 V848" stroke="#000" stroke-width="5.5" fill="none" stroke-linejoin="round"/><path d="M116.6 842.9 Q121.7 843.8 124.9 846.2 L130.5 846.2 Q133.7 843.8 138.8 842.9 L127.7 862.7 Z" fill="#000"/><path d="M180.6 842.9 Q185.7 843.8 188.9 846.2 L194.5 846.2 Q197.7 843.8 202.8 842.9 L191.7 862.7 Z" fill="#000"/><path d="M244.6 842.9 Q249.7 843.8 252.9 846.2 L258.5 846.2 Q261.7 843.8 266.8 842.9 L255.7 862.7 Z" fill="#000"/><path d="M308.6 842.9 Q313.7 843.8 316.9 846.2 L322.5 846.2 Q325.7 843.8 330.8 842.9 L319.7 862.7 Z" fill="#000"/><path d="M372.6 842.9 Q377.7 843.8 380.9 846.2 L386.5 846.2 Q389.7 843.8 394.8 842.9 L383.7 862.7 Z" fill="#000"/><path d="M436.6 842.9 Q441.7 843.8 444.9 846.2 L450.5 846.2 Q453.7 843.8 458.8 842.9 L447.7 862.7 Z" fill="#000"/><path d="M500.6 842.9 Q505.7 843.8 508.9 846.2 L514.5 846.2 Q517.7 843.8 522.8 842.9 L511.7 862.7 Z" fill="#000"/><path d="M564.6 842.9 Q569.7 843.8 572.9 846.2 L578.5 846.2 Q581.7 843.8 586.8 842.9 L575.7 862.7 Z" fill="#000"/><path d="M628.6 842.9 Q633.7 843.8 636.9 846.2 L642.5 846.2 Q645.7 843.8 650.8 842.9 L639.7 862.7 Z" fill="#000"/><path d="M692.6 842.9 Q697.7 843.8 700.9 846.2 L706.5 846.2 Q709.7 843.8 714.8 842.9 L703.7 862.7 Z" fill="#000"/>
<text x="385.6" y="819" font-size="48" font-weight="bold" letter-spacing="1.8" transform="matrix(1 0 0 1.04 0 -32.76)">***</text>
<path d="M127.80 990.70 C127.97 992.68 128.20 999.45 128.80 1002.60 C129.40 1005.75 130.17 1006.12 131.40 1009.60 C132.63 1013.08 134.88 1018.87 136.20 1023.50 C137.52 1028.13 138.60 1032.77 139.30 1037.40 C140.00 1042.03 139.98 1046.65 140.40 1051.30 C140.82 1055.95 141.57 1061.82 141.80 1065.30 C142.03 1068.78 142.43 1068.73 141.80 1072.20 C141.17 1075.67 139.45 1081.47 138.00 1086.10 C136.55 1090.73 134.55 1095.35 133.10 1100.00 C131.65 1104.65 130.18 1109.33 129.30 1114.00 C128.42 1118.67 128.05 1125.67 127.80 1128.00 C127.55 1125.67 127.18 1118.67 126.30 1114.00 C125.42 1109.33 123.95 1104.65 122.50 1100.00 C121.05 1095.35 119.05 1090.73 117.60 1086.10 C116.15 1081.47 114.43 1075.67 113.80 1072.20 C113.17 1068.73 113.57 1068.78 113.80 1065.30 C114.03 1061.82 114.78 1055.95 115.20 1051.30 C115.62 1046.65 115.60 1042.03 116.30 1037.40 C117.00 1032.77 118.08 1028.13 119.40 1023.50 C120.72 1018.87 122.97 1013.08 124.20 1009.60 C125.43 1006.12 126.20 1005.75 126.80 1002.60 C127.40 999.45 127.63 992.68 127.80 990.70 Z" fill="#f2c200" stroke="#000" stroke-width="4.0" stroke-linejoin="round"/>
<path d="M116.1 1040.2 H139.5" stroke="#000" stroke-width="1.9"/>
<path d="M114.4 1074.3 H141.2" stroke="#000" stroke-width="1.9"/>
<path d="M122.3 1052.8 L133.3 1063.8 M133.3 1052.8 L122.3 1063.8" stroke="#000" stroke-width="3.0" stroke-linecap="round"/>
<circle cx="127.8" cy="1058.3" r="4.6" fill="#fff" stroke="#000" stroke-width="3.0"/>
<path d="M191.70 957.80 C191.78 960.67 192.10 968.80 192.20 975.00 C192.30 981.20 192.20 989.90 192.30 995.00 C192.40 1000.10 192.48 1001.98 192.80 1005.60 C193.12 1009.22 193.32 1013.00 194.20 1016.70 C195.08 1020.40 196.82 1024.08 198.10 1027.80 C199.38 1031.52 200.88 1035.28 201.90 1039.00 C202.92 1042.72 203.77 1046.40 204.20 1050.10 C204.63 1053.80 204.50 1057.48 204.50 1061.20 C204.50 1064.92 204.48 1068.68 204.20 1072.40 C203.92 1076.12 203.68 1079.78 202.80 1083.50 C201.92 1087.22 200.02 1090.98 198.90 1094.70 C197.78 1098.42 196.85 1102.10 196.10 1105.80 C195.35 1109.50 194.87 1113.18 194.40 1116.90 C193.93 1120.62 193.67 1124.38 193.30 1128.10 C192.93 1131.82 192.47 1135.00 192.20 1139.20 C191.93 1143.40 191.78 1150.95 191.70 1153.30 C191.62 1150.95 191.47 1143.40 191.20 1139.20 C190.93 1135.00 190.47 1131.82 190.10 1128.10 C189.73 1124.38 189.47 1120.62 189.00 1116.90 C188.53 1113.18 188.05 1109.50 187.30 1105.80 C186.55 1102.10 185.62 1098.42 184.50 1094.70 C183.38 1090.98 181.48 1087.22 180.60 1083.50 C179.72 1079.78 179.48 1076.12 179.20 1072.40 C178.92 1068.68 178.90 1064.92 178.90 1061.20 C178.90 1057.48 178.77 1053.80 179.20 1050.10 C179.63 1046.40 180.48 1042.72 181.50 1039.00 C182.52 1035.28 184.02 1031.52 185.30 1027.80 C186.58 1024.08 188.32 1020.40 189.20 1016.70 C190.08 1013.00 190.28 1009.22 190.60 1005.60 C190.92 1001.98 191.00 1000.10 191.10 995.00 C191.20 989.90 191.10 981.20 191.20 975.00 C191.30 968.80 191.62 960.67 191.70 957.80 Z" fill="#f2c200" stroke="#000" stroke-width="4.0" stroke-linejoin="round"/>
<path d="M179.4 1049.0 H204.0" stroke="#000" stroke-width="1.9"/>
<path d="M181.0 1084.6 H202.4" stroke="#000" stroke-width="1.9"/>
<path d="M186.2 1061.3 L197.2 1072.3 M197.2 1061.3 L186.2 1072.3" stroke="#000" stroke-width="3.0" stroke-linecap="round"/>
<circle cx="191.7" cy="1065.1" r="4.6" fill="#fff" stroke="#000" stroke-width="3.0"/>
<path d="M255.90 973.90 C255.98 978.25 256.13 989.80 256.40 1000.00 C256.67 1010.20 256.83 1028.10 257.50 1035.10 C258.17 1042.10 259.00 1039.77 260.40 1042.00 C261.80 1044.23 263.82 1046.33 265.90 1048.50 C267.98 1050.67 270.73 1053.05 272.90 1055.00 C275.07 1056.95 276.98 1058.62 278.90 1060.20 C280.82 1061.78 283.13 1062.98 284.40 1064.50 C285.67 1066.02 286.50 1067.72 286.50 1069.30 C286.50 1070.88 285.58 1072.38 284.40 1074.00 C283.22 1075.62 281.40 1077.17 279.40 1079.00 C277.40 1080.83 274.65 1082.92 272.40 1085.00 C270.15 1087.08 267.83 1089.38 265.90 1091.50 C263.97 1093.62 262.05 1095.62 260.80 1097.70 C259.55 1099.78 258.95 1101.90 258.40 1104.00 C257.85 1106.10 257.92 1106.15 257.50 1110.30 C257.08 1114.45 256.17 1125.80 255.90 1128.90 C255.63 1125.80 254.72 1114.45 254.30 1110.30 C253.88 1106.15 253.95 1106.10 253.40 1104.00 C252.85 1101.90 252.25 1099.78 251.00 1097.70 C249.75 1095.62 247.83 1093.62 245.90 1091.50 C243.97 1089.38 241.65 1087.08 239.40 1085.00 C237.15 1082.92 234.40 1080.83 232.40 1079.00 C230.40 1077.17 228.58 1075.62 227.40 1074.00 C226.22 1072.38 225.30 1070.88 225.30 1069.30 C225.30 1067.72 226.13 1066.02 227.40 1064.50 C228.67 1062.98 230.98 1061.78 232.90 1060.20 C234.82 1058.62 236.73 1056.95 238.90 1055.00 C241.07 1053.05 243.82 1050.67 245.90 1048.50 C247.98 1046.33 250.00 1044.23 251.40 1042.00 C252.80 1039.77 253.63 1042.10 254.30 1035.10 C254.97 1028.10 255.13 1010.20 255.40 1000.00 C255.67 989.80 255.82 978.25 255.90 973.90 Z" fill="#f2c200" stroke="#000" stroke-width="4.0" stroke-linejoin="round"/>
<path d="M229.7 1062.7 H282.1" stroke="#000" stroke-width="1.9"/>
<path d="M229.2 1075.8 H282.6" stroke="#000" stroke-width="1.9"/>
<path d="M250.4 1064.1 L261.4 1075.1 M261.4 1064.1 L250.4 1075.1" stroke="#000" stroke-width="3.0" stroke-linecap="round"/>
<circle cx="255.9" cy="1069.6" r="4.6" fill="#fff" stroke="#000" stroke-width="3.0"/>
<path d="M319.90 882.90 C319.98 894.08 320.30 930.22 320.40 950.00 C320.50 969.78 320.27 991.65 320.50 1001.60 C320.73 1011.55 321.13 1006.72 321.80 1009.70 C322.47 1012.68 323.53 1016.25 324.50 1019.50 C325.47 1022.75 326.50 1025.95 327.60 1029.20 C328.70 1032.45 329.92 1035.75 331.10 1039.00 C332.28 1042.25 333.65 1045.45 334.70 1048.70 C335.75 1051.95 336.92 1056.05 337.40 1058.50 C337.88 1060.95 337.77 1061.78 337.60 1063.40 C337.43 1065.02 337.25 1065.77 336.40 1068.20 C335.55 1070.63 333.97 1074.75 332.50 1078.00 C331.03 1081.25 329.13 1084.45 327.60 1087.70 C326.07 1090.95 324.38 1094.25 323.30 1097.50 C322.22 1100.75 321.55 1103.95 321.10 1107.20 C320.65 1110.45 320.80 1113.35 320.60 1117.00 C320.40 1120.65 320.02 1127.08 319.90 1129.10 C319.78 1127.08 319.40 1120.65 319.20 1117.00 C319.00 1113.35 319.15 1110.45 318.70 1107.20 C318.25 1103.95 317.58 1100.75 316.50 1097.50 C315.42 1094.25 313.73 1090.95 312.20 1087.70 C310.67 1084.45 308.77 1081.25 307.30 1078.00 C305.83 1074.75 304.25 1070.63 303.40 1068.20 C302.55 1065.77 302.37 1065.02 302.20 1063.40 C302.03 1061.78 301.92 1060.95 302.40 1058.50 C302.88 1056.05 304.05 1051.95 305.10 1048.70 C306.15 1045.45 307.52 1042.25 308.70 1039.00 C309.88 1035.75 311.10 1032.45 312.20 1029.20 C313.30 1025.95 314.33 1022.75 315.30 1019.50 C316.27 1016.25 317.33 1012.68 318.00 1009.70 C318.67 1006.72 319.07 1011.55 319.30 1001.60 C319.53 991.65 319.30 969.78 319.40 950.00 C319.50 930.22 319.82 894.08 319.90 882.90 Z" fill="#f2c200" stroke="#000" stroke-width="4.0" stroke-linejoin="round"/>
<path d="M306.4 1045.3 H333.4" stroke="#000" stroke-width="1.9"/>
<path d="M304.3 1070.4 H335.5" stroke="#000" stroke-width="1.9"/>
<path d="M314.4 1044.2 L325.4 1055.2 M325.4 1044.2 L314.4 1055.2" stroke="#000" stroke-width="3.0" stroke-linecap="round"/>
<circle cx="319.9" cy="1060.4" r="4.6" fill="#fff" stroke="#000" stroke-width="3.0"/>
<path d="M383.70 1023.10 C383.97 1024.82 384.10 1029.83 385.30 1033.40 C386.50 1036.97 387.98 1040.80 390.90 1044.50 C393.82 1048.20 400.37 1052.27 402.80 1055.60 C405.23 1058.93 405.95 1060.78 405.50 1064.50 C405.05 1068.22 401.98 1072.88 400.10 1077.90 C398.22 1082.92 396.10 1089.03 394.20 1094.60 C392.30 1100.17 390.32 1105.73 388.70 1111.30 C387.08 1116.87 385.33 1123.42 384.50 1128.00 C383.67 1132.58 383.83 1137.00 383.70 1138.80 C383.57 1137.00 383.73 1132.58 382.90 1128.00 C382.07 1123.42 380.32 1116.87 378.70 1111.30 C377.08 1105.73 375.10 1100.17 373.20 1094.60 C371.30 1089.03 369.18 1082.92 367.30 1077.90 C365.42 1072.88 362.35 1068.22 361.90 1064.50 C361.45 1060.78 362.17 1058.93 364.60 1055.60 C367.03 1052.27 373.58 1048.20 376.50 1044.50 C379.42 1040.80 380.90 1036.97 382.10 1033.40 C383.30 1029.83 383.43 1024.82 383.70 1023.10 Z" fill="#f2c200" stroke="#000" stroke-width="4.0" stroke-linejoin="round"/>
<path d="M363.1 1060.6 H404.3" stroke="#000" stroke-width="1.9"/>
<path d="M371.2 1089.0 H396.2" stroke="#000" stroke-width="1.9"/>
<path d="M378.2 1071.3 L389.2 1082.3 M389.2 1071.3 L378.2 1082.3" stroke="#000" stroke-width="3.0" stroke-linecap="round"/>
<circle cx="383.7" cy="1071.2" r="4.6" fill="#fff" stroke="#000" stroke-width="3.0"/>
<path d="M447.90 875.30 C447.98 887.75 448.27 920.88 448.40 950.00 C448.53 979.12 448.62 1027.50 448.70 1050.00 C448.78 1072.50 448.80 1076.52 448.90 1085.00 C449.00 1093.48 448.80 1094.78 449.30 1100.90 C449.80 1107.02 450.90 1114.75 451.90 1121.70 C452.90 1128.65 454.08 1135.63 455.30 1142.60 C456.52 1149.57 458.47 1158.28 459.20 1163.50 C459.93 1168.72 459.83 1170.42 459.70 1173.90 C459.57 1177.38 459.32 1180.05 458.40 1184.40 C457.48 1188.75 455.55 1194.78 454.20 1200.00 C452.85 1205.22 450.95 1212.82 450.30 1215.70 C449.65 1218.58 450.30 1217.03 450.30 1217.30 L445.50 1217.30 C445.50 1217.03 446.15 1218.58 445.50 1215.70 C444.85 1212.82 442.95 1205.22 441.60 1200.00 C440.25 1194.78 438.32 1188.75 437.40 1184.40 C436.48 1180.05 436.23 1177.38 436.10 1173.90 C435.97 1170.42 435.87 1168.72 436.60 1163.50 C437.33 1158.28 439.28 1149.57 440.50 1142.60 C441.72 1135.63 442.90 1128.65 443.90 1121.70 C444.90 1114.75 446.00 1107.02 446.50 1100.90 C447.00 1094.78 446.80 1093.48 446.90 1085.00 C447.00 1076.52 447.02 1072.50 447.10 1050.00 C447.18 1027.50 447.27 979.12 447.40 950.00 C447.53 920.88 447.82 887.75 447.90 875.30 Z" fill="#9aabc9" stroke="#000" stroke-width="4.0" stroke-linejoin="round"/>
<path d="M440.8 1140.5 H455.0" stroke="#000" stroke-width="1.9"/>
<path d="M436.6 1177.6 H459.2" stroke="#000" stroke-width="1.9"/>
<path d="M442.4 1142.3 L453.4 1153.3 M453.4 1142.3 L442.4 1153.3" stroke="#000" stroke-width="3.0" stroke-linecap="round"/>
<circle cx="447.9" cy="1168.7" r="4.6" fill="#fff" stroke="#000" stroke-width="3.0"/>
<path d="M511.70 1066.50 C511.97 1071.33 513.03 1084.75 513.30 1095.50 C513.57 1106.25 512.72 1123.10 513.30 1131.00 C513.88 1138.90 514.53 1138.95 516.80 1142.90 C519.07 1146.85 523.60 1150.37 526.90 1154.70 C530.20 1159.03 535.57 1164.95 536.60 1168.90 C537.63 1172.85 535.57 1174.85 533.10 1178.40 C530.63 1181.95 524.87 1186.25 521.80 1190.20 C518.73 1194.15 516.38 1197.98 514.70 1202.10 C513.02 1206.22 512.20 1212.77 511.70 1214.90 C511.20 1212.77 510.38 1206.22 508.70 1202.10 C507.02 1197.98 504.67 1194.15 501.60 1190.20 C498.53 1186.25 492.77 1181.95 490.30 1178.40 C487.83 1174.85 485.77 1172.85 486.80 1168.90 C487.83 1164.95 493.20 1159.03 496.50 1154.70 C499.80 1150.37 504.33 1146.85 506.60 1142.90 C508.87 1138.95 509.52 1138.90 510.10 1131.00 C510.68 1123.10 509.83 1106.25 510.10 1095.50 C510.37 1084.75 511.43 1071.33 511.70 1066.50 Z" fill="#9aabc9" stroke="#000" stroke-width="4.0" stroke-linejoin="round"/>
<path d="M494.0 1158.3 H529.4" stroke="#000" stroke-width="1.9"/>
<path d="M489.4 1176.0 H534.0" stroke="#000" stroke-width="1.9"/>
<path d="M506.2 1157.5 L517.2 1168.5 M517.2 1157.5 L506.2 1168.5" stroke="#000" stroke-width="3.0" stroke-linecap="round"/>
<circle cx="511.7" cy="1170.1" r="4.6" fill="#fff" stroke="#000" stroke-width="3.0"/>
<path d="M575.80 1127.20 C575.90 1128.27 575.70 1130.93 576.40 1133.60 C577.10 1136.27 577.92 1140.00 580.00 1143.20 C582.08 1146.40 585.50 1149.60 588.90 1152.80 C592.30 1156.00 597.43 1159.52 600.40 1162.40 C603.37 1165.28 606.45 1167.70 606.70 1170.10 C606.95 1172.50 604.22 1174.08 601.90 1176.80 C599.58 1179.52 596.17 1183.52 592.80 1186.40 C589.43 1189.28 584.35 1191.70 581.70 1194.10 C579.05 1196.50 577.88 1199.13 576.90 1200.80 C575.92 1202.47 575.98 1203.55 575.80 1204.10 C575.62 1203.55 575.68 1202.47 574.70 1200.80 C573.72 1199.13 572.55 1196.50 569.90 1194.10 C567.25 1191.70 562.17 1189.28 558.80 1186.40 C555.43 1183.52 552.02 1179.52 549.70 1176.80 C547.38 1174.08 544.65 1172.50 544.90 1170.10 C545.15 1167.70 548.23 1165.28 551.20 1162.40 C554.17 1159.52 559.30 1156.00 562.70 1152.80 C566.10 1149.60 569.52 1146.40 571.60 1143.20 C573.68 1140.00 574.50 1136.27 575.20 1133.60 C575.90 1130.93 575.70 1128.27 575.80 1127.20 Z" fill="#9aabc9" stroke="#000" stroke-width="4.0" stroke-linejoin="round"/>
<path d="M554.1 1160.0 H597.5" stroke="#000" stroke-width="1.9"/>
<path d="M551.0 1178.2 H600.6" stroke="#000" stroke-width="1.9"/>
<path d="M570.3 1164.6 L581.3 1175.6 M581.3 1164.6 L570.3 1175.6" stroke="#000" stroke-width="3.0" stroke-linecap="round"/>
<circle cx="575.8" cy="1170.1" r="4.6" fill="#fff" stroke="#000" stroke-width="3.0"/>
<path d="M639.70 972.90 C639.78 980.75 640.10 1004.92 640.20 1020.00 C640.30 1035.08 640.08 1054.23 640.30 1063.40 C640.52 1072.57 641.15 1071.87 641.50 1075.00 C641.85 1078.13 642.03 1078.70 642.40 1082.20 C642.77 1085.70 643.30 1091.28 643.70 1096.00 C644.10 1100.72 644.27 1105.67 644.80 1110.50 C645.33 1115.33 646.12 1120.30 646.90 1125.00 C647.68 1129.70 648.72 1134.87 649.50 1138.70 C650.28 1142.53 651.00 1144.87 651.60 1148.00 C652.20 1151.13 652.78 1154.83 653.10 1157.50 C653.42 1160.17 653.53 1161.92 653.50 1164.00 C653.47 1166.08 653.27 1167.95 652.90 1170.00 C652.53 1172.05 652.12 1173.68 651.30 1176.30 C650.48 1178.92 649.20 1182.57 648.00 1185.70 C646.80 1188.83 645.27 1191.97 644.10 1195.10 C642.93 1198.23 641.63 1201.85 641.00 1204.50 C640.37 1207.15 640.52 1208.83 640.30 1211.00 C640.08 1213.17 639.80 1216.42 639.70 1217.50 C639.60 1216.42 639.32 1213.17 639.10 1211.00 C638.88 1208.83 639.03 1207.15 638.40 1204.50 C637.77 1201.85 636.47 1198.23 635.30 1195.10 C634.13 1191.97 632.60 1188.83 631.40 1185.70 C630.20 1182.57 628.92 1178.92 628.10 1176.30 C627.28 1173.68 626.87 1172.05 626.50 1170.00 C626.13 1167.95 625.93 1166.08 625.90 1164.00 C625.87 1161.92 625.98 1160.17 626.30 1157.50 C626.62 1154.83 627.20 1151.13 627.80 1148.00 C628.40 1144.87 629.12 1142.53 629.90 1138.70 C630.68 1134.87 631.72 1129.70 632.50 1125.00 C633.28 1120.30 634.07 1115.33 634.60 1110.50 C635.13 1105.67 635.30 1100.72 635.70 1096.00 C636.10 1091.28 636.63 1085.70 637.00 1082.20 C637.37 1078.70 637.55 1078.13 637.90 1075.00 C638.25 1071.87 638.88 1072.57 639.10 1063.40 C639.32 1054.23 639.10 1035.08 639.20 1020.00 C639.30 1004.92 639.62 980.75 639.70 972.90 Z" fill="#9aabc9" stroke="#000" stroke-width="4.0" stroke-linejoin="round"/>
<path d="M630.3 1136.8 H649.1" stroke="#000" stroke-width="1.9"/>
<path d="M626.3 1167.8 H653.1" stroke="#000" stroke-width="1.9"/>
<path d="M634.2 1139.8 L645.2 1150.8 M645.2 1139.8 L634.2 1150.8" stroke="#000" stroke-width="3.0" stroke-linecap="round"/>
<circle cx="639.7" cy="1157.5" r="4.6" fill="#fff" stroke="#000" stroke-width="3.0"/>
<path d="M703.70 1056.80 C703.78 1065.73 703.78 1099.83 704.20 1110.40 C704.62 1120.97 705.30 1116.72 706.20 1120.20 C707.10 1123.68 709.07 1127.60 709.60 1131.30 C710.13 1135.00 707.47 1138.92 709.40 1142.40 C711.33 1145.88 717.20 1148.48 721.20 1152.20 C725.20 1155.92 732.37 1161.23 733.40 1164.70 C734.43 1168.17 731.18 1169.28 727.40 1173.00 C723.62 1176.72 714.52 1183.28 710.70 1187.00 C706.88 1190.72 705.67 1192.73 704.50 1195.30 C703.33 1197.87 703.83 1201.22 703.70 1202.40 C703.57 1201.22 704.07 1197.87 702.90 1195.30 C701.73 1192.73 700.52 1190.72 696.70 1187.00 C692.88 1183.28 683.78 1176.72 680.00 1173.00 C676.22 1169.28 672.97 1168.17 674.00 1164.70 C675.03 1161.23 682.20 1155.92 686.20 1152.20 C690.20 1148.48 696.07 1145.88 698.00 1142.40 C699.93 1138.92 697.27 1135.00 697.80 1131.30 C698.33 1127.60 700.30 1123.68 701.20 1120.20 C702.10 1116.72 702.78 1120.97 703.20 1110.40 C703.62 1099.83 703.62 1065.73 703.70 1056.80 Z" fill="#9aabc9" stroke="#000" stroke-width="4.0" stroke-linejoin="round"/>
<path d="M680.1 1158.4 H727.3" stroke="#000" stroke-width="1.9"/>
<path d="M678.8 1171.4 H728.6" stroke="#000" stroke-width="1.9"/>
<path d="M698.2 1155.0 L709.2 1166.0 M709.2 1155.0 L698.2 1166.0" stroke="#000" stroke-width="3.0" stroke-linecap="round"/>
<circle cx="703.7" cy="1164.7" r="4.6" fill="#fff" stroke="#000" stroke-width="3.0"/>
<g transform="translate(143.8 1265.3) rotate(-65)"><text x="-129.35" y="0" font-size="35.8" transform="matrix(1 0 0 1.04 0 -0.00)">Image</text><path transform="translate(-19.90 0.00) scale(0.01748 -0.01748)" d="M763 0 L583 0 L583 1147 Q518 1085 415 1024.5 Q312 964 223 931 L223 1105 Q374 1176 487 1277 Q600 1378 647 1466 L763 1466 Z" fill="#000"/></g>
<text transform="translate(207.8 1265.3) rotate(-65) scale(1 1.04)" font-size="35.8" text-anchor="end">Image 2</text>
<text transform="translate(271.8 1265.3) rotate(-65) scale(1 1.04)" font-size="35.8" text-anchor="end">Image 3</text>
<text transform="translate(335.8 1265.3) rotate(-65) scale(1 1.04)" font-size="35.8" font-weight="bold" text-anchor="end">Image 4</text>
<text transform="translate(399.8 1265.3) rotate(-65) scale(1 1.04)" font-size="35.8" text-anchor="end">Image 5</text>
<g transform="translate(463.8 1265.3) rotate(-65)"><text x="-129.35" y="0" font-size="35.8" transform="matrix(1 0 0 1.04 0 -0.00)">Image</text><path transform="translate(-19.90 0.00) scale(0.01748 -0.01748)" d="M763 0 L583 0 L583 1147 Q518 1085 415 1024.5 Q312 964 223 931 L223 1105 Q374 1176 487 1277 Q600 1378 647 1466 L763 1466 Z" fill="#000"/></g>
<text transform="translate(527.8 1265.3) rotate(-65) scale(1 1.04)" font-size="35.8" text-anchor="end">Image 2</text>
<text transform="translate(591.8 1265.3) rotate(-65) scale(1 1.04)" font-size="35.8" font-weight="bold" text-anchor="end">Image 3</text>
<text transform="translate(655.8 1265.3) rotate(-65) scale(1 1.04)" font-size="35.8" text-anchor="end">Image 4</text>
<text transform="translate(719.8 1265.3) rotate(-65) scale(1 1.04)" font-size="35.8" text-anchor="end">Image 5</text>
<path d="M123.1 1243.6 L53.9 1385.5 H358 L427.2 1243.6" stroke="#000" stroke-width="2.9" fill="none" stroke-dasharray="10.5 7"/>
<path d="M443.6 1243.6 L375 1385.5 H680.5 L749.6 1243.6" stroke="#000" stroke-width="2.9" fill="none" stroke-dasharray="10.5 7"/>
<rect x="72.2" y="1386.2" width="269.7" height="46.2" fill="#f2c200" stroke="#000" stroke-width="4.6"/>
<text x="209" y="1418.3" font-size="35.0" text-anchor="middle" transform="matrix(1 0 0 1.04 0 -56.73)"><tspan font-style="italic">Pre</tspan> Acquisitions</text>
<rect x="392.2" y="1387.1" width="271.6" height="44.7" fill="#9aabc9" stroke="#000" stroke-width="4.6"/>
<text x="528" y="1418.3" font-size="35.0" text-anchor="middle" transform="matrix(1 0 0 1.04 0 -56.73)"><tspan font-style="italic">Mid</tspan> Acquisitions</text>
</svg>
</body></html>
